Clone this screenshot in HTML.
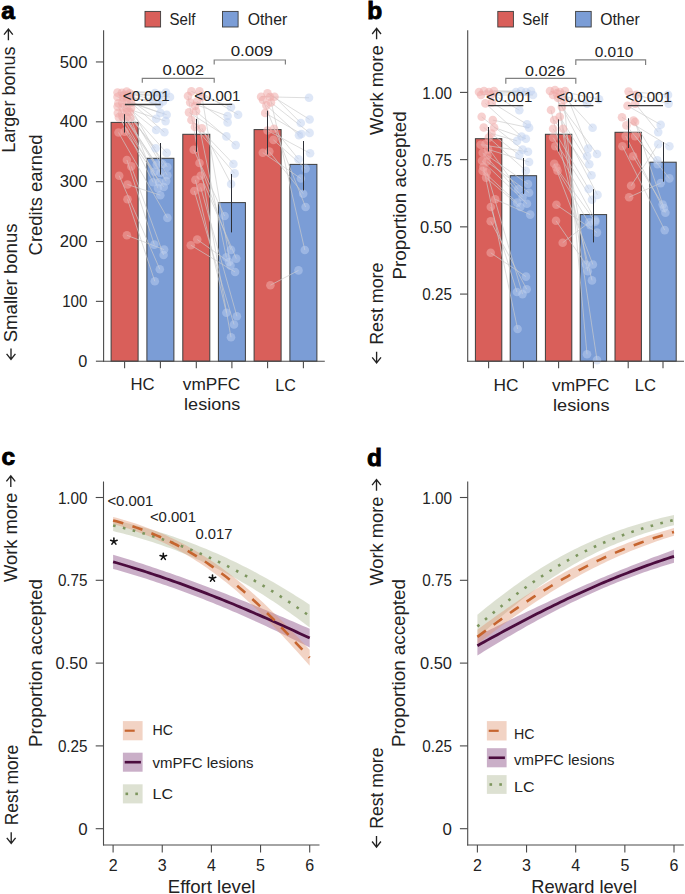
<!DOCTYPE html>
<html><head><meta charset="utf-8"><style>
html,body{margin:0;padding:0;background:#fff;}
svg{display:block;font-family:"Liberation Sans", sans-serif;}
</style></head><body>
<svg width="685" height="894" viewBox="0 0 685 894">
<rect width="685" height="894" fill="#fff"/>
<rect x="111.10" y="122.40" width="27.00" height="238.80" fill="#d95f5a" stroke="#3d3d3d" stroke-width="1.0"/>
<rect x="146.90" y="158.30" width="27.00" height="202.90" fill="#7b9dd6" stroke="#3d3d3d" stroke-width="1.0"/>
<rect x="182.80" y="134.30" width="27.00" height="226.90" fill="#d95f5a" stroke="#3d3d3d" stroke-width="1.0"/>
<rect x="218.40" y="202.60" width="27.00" height="158.60" fill="#7b9dd6" stroke="#3d3d3d" stroke-width="1.0"/>
<rect x="254.10" y="129.60" width="27.00" height="231.60" fill="#d95f5a" stroke="#3d3d3d" stroke-width="1.0"/>
<rect x="289.90" y="164.40" width="27.00" height="196.80" fill="#7b9dd6" stroke="#3d3d3d" stroke-width="1.0"/>
<line x1="126.70" y1="91.60" x2="166.00" y2="92.50" stroke="rgb(205,205,205)" stroke-width="0.9" stroke-opacity="0.75"/>
<line x1="117.50" y1="92.60" x2="155.00" y2="93.00" stroke="rgb(205,205,205)" stroke-width="0.9" stroke-opacity="0.75"/>
<line x1="121.90" y1="92.70" x2="170.00" y2="97.00" stroke="rgb(205,205,205)" stroke-width="0.9" stroke-opacity="0.75"/>
<line x1="129.60" y1="93.20" x2="153.00" y2="100.00" stroke="rgb(205,205,205)" stroke-width="0.9" stroke-opacity="0.75"/>
<line x1="124.00" y1="95.00" x2="160.00" y2="95.00" stroke="rgb(205,205,205)" stroke-width="0.9" stroke-opacity="0.75"/>
<line x1="130.90" y1="96.80" x2="159.10" y2="104.70" stroke="rgb(205,205,205)" stroke-width="0.9" stroke-opacity="0.75"/>
<line x1="117.50" y1="97.00" x2="160.30" y2="112.90" stroke="rgb(205,205,205)" stroke-width="0.9" stroke-opacity="0.75"/>
<line x1="123.20" y1="97.40" x2="163.00" y2="101.50" stroke="rgb(205,205,205)" stroke-width="0.9" stroke-opacity="0.75"/>
<line x1="127.10" y1="97.50" x2="156.20" y2="118.80" stroke="rgb(205,205,205)" stroke-width="0.9" stroke-opacity="0.75"/>
<line x1="126.70" y1="101.60" x2="166.70" y2="114.70" stroke="rgb(205,205,205)" stroke-width="0.9" stroke-opacity="0.75"/>
<line x1="131.10" y1="102.70" x2="164.40" y2="132.30" stroke="rgb(205,205,205)" stroke-width="0.9" stroke-opacity="0.75"/>
<line x1="122.20" y1="103.00" x2="156.20" y2="130.00" stroke="rgb(205,205,205)" stroke-width="0.9" stroke-opacity="0.75"/>
<line x1="118.30" y1="103.20" x2="155.60" y2="148.20" stroke="rgb(205,205,205)" stroke-width="0.9" stroke-opacity="0.75"/>
<line x1="117.60" y1="106.60" x2="156.80" y2="164.60" stroke="rgb(205,205,205)" stroke-width="0.9" stroke-opacity="0.75"/>
<line x1="122.90" y1="107.40" x2="165.60" y2="121.10" stroke="rgb(205,205,205)" stroke-width="0.9" stroke-opacity="0.75"/>
<line x1="126.80" y1="108.30" x2="166.70" y2="152.90" stroke="rgb(205,205,205)" stroke-width="0.9" stroke-opacity="0.75"/>
<line x1="131.00" y1="108.30" x2="162.60" y2="164.00" stroke="rgb(205,205,205)" stroke-width="0.9" stroke-opacity="0.75"/>
<line x1="127.20" y1="111.70" x2="167.30" y2="167.00" stroke="rgb(205,205,205)" stroke-width="0.9" stroke-opacity="0.75"/>
<line x1="129.90" y1="111.90" x2="167.30" y2="175.20" stroke="rgb(205,205,205)" stroke-width="0.9" stroke-opacity="0.75"/>
<line x1="117.80" y1="113.10" x2="153.20" y2="182.30" stroke="rgb(205,205,205)" stroke-width="0.9" stroke-opacity="0.75"/>
<line x1="122.10" y1="113.40" x2="160.30" y2="172.90" stroke="rgb(205,205,205)" stroke-width="0.9" stroke-opacity="0.75"/>
<line x1="122.50" y1="117.10" x2="159.10" y2="182.30" stroke="rgb(205,205,205)" stroke-width="0.9" stroke-opacity="0.75"/>
<line x1="126.40" y1="117.30" x2="166.20" y2="181.10" stroke="rgb(205,205,205)" stroke-width="0.9" stroke-opacity="0.75"/>
<line x1="118.90" y1="117.40" x2="154.40" y2="171.70" stroke="rgb(205,205,205)" stroke-width="0.9" stroke-opacity="0.75"/>
<line x1="130.30" y1="117.70" x2="157.90" y2="188.10" stroke="rgb(205,205,205)" stroke-width="0.9" stroke-opacity="0.75"/>
<line x1="118.50" y1="132.50" x2="167.40" y2="217.90" stroke="rgb(205,205,205)" stroke-width="0.9" stroke-opacity="0.75"/>
<line x1="124.60" y1="131.60" x2="163.80" y2="187.00" stroke="rgb(205,205,205)" stroke-width="0.9" stroke-opacity="0.75"/>
<line x1="126.90" y1="160.00" x2="154.30" y2="244.60" stroke="rgb(205,205,205)" stroke-width="0.9" stroke-opacity="0.75"/>
<line x1="131.30" y1="166.40" x2="163.60" y2="255.00" stroke="rgb(205,205,205)" stroke-width="0.9" stroke-opacity="0.75"/>
<line x1="119.20" y1="175.70" x2="159.80" y2="269.30" stroke="rgb(205,205,205)" stroke-width="0.9" stroke-opacity="0.75"/>
<line x1="127.50" y1="184.50" x2="160.30" y2="195.20" stroke="rgb(205,205,205)" stroke-width="0.9" stroke-opacity="0.75"/>
<line x1="127.50" y1="199.30" x2="154.80" y2="281.30" stroke="rgb(205,205,205)" stroke-width="0.9" stroke-opacity="0.75"/>
<line x1="126.90" y1="235.30" x2="164.10" y2="249.60" stroke="rgb(205,205,205)" stroke-width="0.9" stroke-opacity="0.75"/>
<circle cx="126.7" cy="91.6" r="4.3" fill="rgb(241,172,170)" fill-opacity="0.55"/>
<circle cx="117.5" cy="92.6" r="4.3" fill="rgb(241,172,170)" fill-opacity="0.55"/>
<circle cx="121.9" cy="92.7" r="4.3" fill="rgb(241,172,170)" fill-opacity="0.55"/>
<circle cx="129.6" cy="93.2" r="4.3" fill="rgb(241,172,170)" fill-opacity="0.55"/>
<circle cx="124" cy="95" r="4.3" fill="rgb(241,172,170)" fill-opacity="0.55"/>
<circle cx="130.9" cy="96.8" r="4.3" fill="rgb(241,172,170)" fill-opacity="0.55"/>
<circle cx="117.5" cy="97.0" r="4.3" fill="rgb(241,172,170)" fill-opacity="0.55"/>
<circle cx="123.2" cy="97.4" r="4.3" fill="rgb(241,172,170)" fill-opacity="0.55"/>
<circle cx="127.1" cy="97.5" r="4.3" fill="rgb(241,172,170)" fill-opacity="0.55"/>
<circle cx="126.7" cy="101.6" r="4.3" fill="rgb(241,172,170)" fill-opacity="0.55"/>
<circle cx="131.1" cy="102.7" r="4.3" fill="rgb(241,172,170)" fill-opacity="0.55"/>
<circle cx="122.2" cy="103.0" r="4.3" fill="rgb(241,172,170)" fill-opacity="0.55"/>
<circle cx="118.3" cy="103.2" r="4.3" fill="rgb(241,172,170)" fill-opacity="0.55"/>
<circle cx="117.6" cy="106.6" r="4.3" fill="rgb(241,172,170)" fill-opacity="0.55"/>
<circle cx="122.9" cy="107.4" r="4.3" fill="rgb(241,172,170)" fill-opacity="0.55"/>
<circle cx="126.8" cy="108.3" r="4.3" fill="rgb(241,172,170)" fill-opacity="0.55"/>
<circle cx="131.0" cy="108.3" r="4.3" fill="rgb(241,172,170)" fill-opacity="0.55"/>
<circle cx="127.2" cy="111.7" r="4.3" fill="rgb(241,172,170)" fill-opacity="0.55"/>
<circle cx="129.9" cy="111.9" r="4.3" fill="rgb(241,172,170)" fill-opacity="0.55"/>
<circle cx="117.8" cy="113.1" r="4.3" fill="rgb(241,172,170)" fill-opacity="0.55"/>
<circle cx="122.1" cy="113.4" r="4.3" fill="rgb(241,172,170)" fill-opacity="0.55"/>
<circle cx="122.5" cy="117.1" r="4.3" fill="rgb(241,172,170)" fill-opacity="0.55"/>
<circle cx="126.4" cy="117.3" r="4.3" fill="rgb(241,172,170)" fill-opacity="0.55"/>
<circle cx="118.9" cy="117.4" r="4.3" fill="rgb(241,172,170)" fill-opacity="0.55"/>
<circle cx="130.3" cy="117.7" r="4.3" fill="rgb(241,172,170)" fill-opacity="0.55"/>
<circle cx="118.5" cy="132.5" r="4.3" fill="rgb(241,172,170)" fill-opacity="0.55"/>
<circle cx="124.6" cy="131.6" r="4.3" fill="rgb(241,172,170)" fill-opacity="0.55"/>
<circle cx="126.9" cy="160" r="4.3" fill="rgb(241,172,170)" fill-opacity="0.55"/>
<circle cx="131.3" cy="166.4" r="4.3" fill="rgb(241,172,170)" fill-opacity="0.55"/>
<circle cx="119.2" cy="175.7" r="4.3" fill="rgb(241,172,170)" fill-opacity="0.55"/>
<circle cx="127.5" cy="184.5" r="4.3" fill="rgb(241,172,170)" fill-opacity="0.55"/>
<circle cx="127.5" cy="199.3" r="4.3" fill="rgb(241,172,170)" fill-opacity="0.55"/>
<circle cx="126.9" cy="235.3" r="4.3" fill="rgb(241,172,170)" fill-opacity="0.55"/>
<circle cx="166" cy="92.5" r="4.3" fill="rgb(190,208,240)" fill-opacity="0.5"/>
<circle cx="155" cy="93" r="4.3" fill="rgb(190,208,240)" fill-opacity="0.5"/>
<circle cx="170" cy="97" r="4.3" fill="rgb(190,208,240)" fill-opacity="0.5"/>
<circle cx="153" cy="100" r="4.3" fill="rgb(190,208,240)" fill-opacity="0.5"/>
<circle cx="160" cy="95" r="4.3" fill="rgb(190,208,240)" fill-opacity="0.5"/>
<circle cx="159.1" cy="104.7" r="4.3" fill="rgb(190,208,240)" fill-opacity="0.5"/>
<circle cx="160.3" cy="112.9" r="4.3" fill="rgb(190,208,240)" fill-opacity="0.5"/>
<circle cx="163" cy="101.5" r="4.3" fill="rgb(190,208,240)" fill-opacity="0.5"/>
<circle cx="156.2" cy="118.8" r="4.3" fill="rgb(190,208,240)" fill-opacity="0.5"/>
<circle cx="166.7" cy="114.7" r="4.3" fill="rgb(190,208,240)" fill-opacity="0.5"/>
<circle cx="164.4" cy="132.3" r="4.3" fill="rgb(190,208,240)" fill-opacity="0.5"/>
<circle cx="156.2" cy="130" r="4.3" fill="rgb(190,208,240)" fill-opacity="0.5"/>
<circle cx="155.6" cy="148.2" r="4.3" fill="rgb(190,208,240)" fill-opacity="0.5"/>
<circle cx="156.8" cy="164.6" r="4.3" fill="rgb(190,208,240)" fill-opacity="0.5"/>
<circle cx="165.6" cy="121.1" r="4.3" fill="rgb(190,208,240)" fill-opacity="0.5"/>
<circle cx="166.7" cy="152.9" r="4.3" fill="rgb(190,208,240)" fill-opacity="0.5"/>
<circle cx="162.6" cy="164" r="4.3" fill="rgb(190,208,240)" fill-opacity="0.5"/>
<circle cx="167.3" cy="167" r="4.3" fill="rgb(190,208,240)" fill-opacity="0.5"/>
<circle cx="167.3" cy="175.2" r="4.3" fill="rgb(190,208,240)" fill-opacity="0.5"/>
<circle cx="153.2" cy="182.3" r="4.3" fill="rgb(190,208,240)" fill-opacity="0.5"/>
<circle cx="160.3" cy="172.9" r="4.3" fill="rgb(190,208,240)" fill-opacity="0.5"/>
<circle cx="159.1" cy="182.3" r="4.3" fill="rgb(190,208,240)" fill-opacity="0.5"/>
<circle cx="166.2" cy="181.1" r="4.3" fill="rgb(190,208,240)" fill-opacity="0.5"/>
<circle cx="154.4" cy="171.7" r="4.3" fill="rgb(190,208,240)" fill-opacity="0.5"/>
<circle cx="157.9" cy="188.1" r="4.3" fill="rgb(190,208,240)" fill-opacity="0.5"/>
<circle cx="167.4" cy="217.9" r="4.3" fill="rgb(190,208,240)" fill-opacity="0.5"/>
<circle cx="163.8" cy="187" r="4.3" fill="rgb(190,208,240)" fill-opacity="0.5"/>
<circle cx="154.3" cy="244.6" r="4.3" fill="rgb(190,208,240)" fill-opacity="0.5"/>
<circle cx="163.6" cy="255" r="4.3" fill="rgb(190,208,240)" fill-opacity="0.5"/>
<circle cx="159.8" cy="269.3" r="4.3" fill="rgb(190,208,240)" fill-opacity="0.5"/>
<circle cx="160.3" cy="195.2" r="4.3" fill="rgb(190,208,240)" fill-opacity="0.5"/>
<circle cx="154.8" cy="281.3" r="4.3" fill="rgb(190,208,240)" fill-opacity="0.5"/>
<circle cx="164.1" cy="249.6" r="4.3" fill="rgb(190,208,240)" fill-opacity="0.5"/>
<line x1="191.40" y1="91.40" x2="231.00" y2="107.20" stroke="rgb(205,205,205)" stroke-width="0.9" stroke-opacity="0.75"/>
<line x1="199.50" y1="91.40" x2="238.10" y2="114.80" stroke="rgb(205,205,205)" stroke-width="0.9" stroke-opacity="0.75"/>
<line x1="190.20" y1="102.50" x2="227.60" y2="116.00" stroke="rgb(205,205,205)" stroke-width="0.9" stroke-opacity="0.75"/>
<line x1="197.20" y1="101.40" x2="227.60" y2="122.40" stroke="rgb(205,205,205)" stroke-width="0.9" stroke-opacity="0.75"/>
<line x1="189.00" y1="112.40" x2="226.40" y2="136.40" stroke="rgb(205,205,205)" stroke-width="0.9" stroke-opacity="0.75"/>
<line x1="196.00" y1="111.30" x2="235.70" y2="145.10" stroke="rgb(205,205,205)" stroke-width="0.9" stroke-opacity="0.75"/>
<line x1="191.40" y1="120.00" x2="233.40" y2="164.00" stroke="rgb(205,205,205)" stroke-width="0.9" stroke-opacity="0.75"/>
<line x1="194.90" y1="127.00" x2="234.60" y2="173.40" stroke="rgb(205,205,205)" stroke-width="0.9" stroke-opacity="0.75"/>
<line x1="201.90" y1="128.20" x2="231.10" y2="184.00" stroke="rgb(205,205,205)" stroke-width="0.9" stroke-opacity="0.75"/>
<line x1="193.70" y1="149.80" x2="224.60" y2="216.00" stroke="rgb(205,205,205)" stroke-width="0.9" stroke-opacity="0.75"/>
<line x1="199.50" y1="163.00" x2="231.00" y2="249.90" stroke="rgb(205,205,205)" stroke-width="0.9" stroke-opacity="0.75"/>
<line x1="200.70" y1="175.80" x2="236.30" y2="258.60" stroke="rgb(205,205,205)" stroke-width="0.9" stroke-opacity="0.75"/>
<line x1="195.40" y1="179.90" x2="226.40" y2="312.80" stroke="rgb(205,205,205)" stroke-width="0.9" stroke-opacity="0.75"/>
<line x1="200.70" y1="187.40" x2="236.90" y2="316.30" stroke="rgb(205,205,205)" stroke-width="0.9" stroke-opacity="0.75"/>
<line x1="194.30" y1="191.00" x2="234.00" y2="324.50" stroke="rgb(205,205,205)" stroke-width="0.9" stroke-opacity="0.75"/>
<line x1="197.20" y1="239.50" x2="229.00" y2="262.00" stroke="rgb(205,205,205)" stroke-width="0.9" stroke-opacity="0.75"/>
<line x1="190.80" y1="245.20" x2="235.10" y2="272.00" stroke="rgb(205,205,205)" stroke-width="0.9" stroke-opacity="0.75"/>
<line x1="188.00" y1="96.00" x2="231.00" y2="337.30" stroke="rgb(205,205,205)" stroke-width="0.9" stroke-opacity="0.75"/>
<line x1="202.00" y1="97.00" x2="230.50" y2="265.60" stroke="rgb(205,205,205)" stroke-width="0.9" stroke-opacity="0.75"/>
<line x1="195.00" y1="106.00" x2="226.40" y2="257.40" stroke="rgb(205,205,205)" stroke-width="0.9" stroke-opacity="0.75"/>
<circle cx="191.4" cy="91.4" r="4.3" fill="rgb(241,172,170)" fill-opacity="0.55"/>
<circle cx="199.5" cy="91.4" r="4.3" fill="rgb(241,172,170)" fill-opacity="0.55"/>
<circle cx="190.2" cy="102.5" r="4.3" fill="rgb(241,172,170)" fill-opacity="0.55"/>
<circle cx="197.2" cy="101.4" r="4.3" fill="rgb(241,172,170)" fill-opacity="0.55"/>
<circle cx="189" cy="112.4" r="4.3" fill="rgb(241,172,170)" fill-opacity="0.55"/>
<circle cx="196" cy="111.3" r="4.3" fill="rgb(241,172,170)" fill-opacity="0.55"/>
<circle cx="191.4" cy="120" r="4.3" fill="rgb(241,172,170)" fill-opacity="0.55"/>
<circle cx="194.9" cy="127" r="4.3" fill="rgb(241,172,170)" fill-opacity="0.55"/>
<circle cx="201.9" cy="128.2" r="4.3" fill="rgb(241,172,170)" fill-opacity="0.55"/>
<circle cx="193.7" cy="149.8" r="4.3" fill="rgb(241,172,170)" fill-opacity="0.55"/>
<circle cx="199.5" cy="163" r="4.3" fill="rgb(241,172,170)" fill-opacity="0.55"/>
<circle cx="200.7" cy="175.8" r="4.3" fill="rgb(241,172,170)" fill-opacity="0.55"/>
<circle cx="195.4" cy="179.9" r="4.3" fill="rgb(241,172,170)" fill-opacity="0.55"/>
<circle cx="200.7" cy="187.4" r="4.3" fill="rgb(241,172,170)" fill-opacity="0.55"/>
<circle cx="194.3" cy="191" r="4.3" fill="rgb(241,172,170)" fill-opacity="0.55"/>
<circle cx="197.2" cy="239.5" r="4.3" fill="rgb(241,172,170)" fill-opacity="0.55"/>
<circle cx="190.8" cy="245.2" r="4.3" fill="rgb(241,172,170)" fill-opacity="0.55"/>
<circle cx="188" cy="96" r="4.3" fill="rgb(241,172,170)" fill-opacity="0.55"/>
<circle cx="202" cy="97" r="4.3" fill="rgb(241,172,170)" fill-opacity="0.55"/>
<circle cx="195" cy="106" r="4.3" fill="rgb(241,172,170)" fill-opacity="0.55"/>
<circle cx="231" cy="107.2" r="4.3" fill="rgb(190,208,240)" fill-opacity="0.5"/>
<circle cx="238.1" cy="114.8" r="4.3" fill="rgb(190,208,240)" fill-opacity="0.5"/>
<circle cx="227.6" cy="116" r="4.3" fill="rgb(190,208,240)" fill-opacity="0.5"/>
<circle cx="227.6" cy="122.4" r="4.3" fill="rgb(190,208,240)" fill-opacity="0.5"/>
<circle cx="226.4" cy="136.4" r="4.3" fill="rgb(190,208,240)" fill-opacity="0.5"/>
<circle cx="235.7" cy="145.1" r="4.3" fill="rgb(190,208,240)" fill-opacity="0.5"/>
<circle cx="233.4" cy="164" r="4.3" fill="rgb(190,208,240)" fill-opacity="0.5"/>
<circle cx="234.6" cy="173.4" r="4.3" fill="rgb(190,208,240)" fill-opacity="0.5"/>
<circle cx="231.1" cy="184" r="4.3" fill="rgb(190,208,240)" fill-opacity="0.5"/>
<circle cx="224.6" cy="216" r="4.3" fill="rgb(190,208,240)" fill-opacity="0.5"/>
<circle cx="231" cy="249.9" r="4.3" fill="rgb(190,208,240)" fill-opacity="0.5"/>
<circle cx="236.3" cy="258.6" r="4.3" fill="rgb(190,208,240)" fill-opacity="0.5"/>
<circle cx="226.4" cy="312.8" r="4.3" fill="rgb(190,208,240)" fill-opacity="0.5"/>
<circle cx="236.9" cy="316.3" r="4.3" fill="rgb(190,208,240)" fill-opacity="0.5"/>
<circle cx="234" cy="324.5" r="4.3" fill="rgb(190,208,240)" fill-opacity="0.5"/>
<circle cx="229" cy="262" r="4.3" fill="rgb(190,208,240)" fill-opacity="0.5"/>
<circle cx="235.1" cy="272" r="4.3" fill="rgb(190,208,240)" fill-opacity="0.5"/>
<circle cx="231" cy="337.3" r="4.3" fill="rgb(190,208,240)" fill-opacity="0.5"/>
<circle cx="230.5" cy="265.6" r="4.3" fill="rgb(190,208,240)" fill-opacity="0.5"/>
<circle cx="226.4" cy="257.4" r="4.3" fill="rgb(190,208,240)" fill-opacity="0.5"/>
<line x1="261.10" y1="96.70" x2="309.00" y2="97.80" stroke="rgb(205,205,205)" stroke-width="0.9" stroke-opacity="0.75"/>
<line x1="267.50" y1="93.20" x2="309.60" y2="119.50" stroke="rgb(205,205,205)" stroke-width="0.9" stroke-opacity="0.75"/>
<line x1="274.50" y1="96.70" x2="300.80" y2="123.00" stroke="rgb(205,205,205)" stroke-width="0.9" stroke-opacity="0.75"/>
<line x1="271.00" y1="102.50" x2="309.60" y2="132.90" stroke="rgb(205,205,205)" stroke-width="0.9" stroke-opacity="0.75"/>
<line x1="266.40" y1="105.40" x2="299.00" y2="135.20" stroke="rgb(205,205,205)" stroke-width="0.9" stroke-opacity="0.75"/>
<line x1="265.20" y1="113.00" x2="301.40" y2="134.00" stroke="rgb(205,205,205)" stroke-width="0.9" stroke-opacity="0.75"/>
<line x1="267.50" y1="130.50" x2="310.10" y2="153.30" stroke="rgb(205,205,205)" stroke-width="0.9" stroke-opacity="0.75"/>
<line x1="274.00" y1="128.80" x2="298.50" y2="159.20" stroke="rgb(205,205,205)" stroke-width="0.9" stroke-opacity="0.75"/>
<line x1="273.40" y1="139.90" x2="305.60" y2="168.60" stroke="rgb(205,205,205)" stroke-width="0.9" stroke-opacity="0.75"/>
<line x1="262.80" y1="152.70" x2="300.90" y2="178.50" stroke="rgb(205,205,205)" stroke-width="0.9" stroke-opacity="0.75"/>
<line x1="269.30" y1="151.60" x2="303.20" y2="193.70" stroke="rgb(205,205,205)" stroke-width="0.9" stroke-opacity="0.75"/>
<line x1="270.40" y1="285.20" x2="298.50" y2="270.40" stroke="rgb(205,205,205)" stroke-width="0.9" stroke-opacity="0.75"/>
<line x1="263.00" y1="100.00" x2="305.60" y2="207.00" stroke="rgb(205,205,205)" stroke-width="0.9" stroke-opacity="0.75"/>
<line x1="270.00" y1="97.00" x2="304.80" y2="250.00" stroke="rgb(205,205,205)" stroke-width="0.9" stroke-opacity="0.75"/>
<circle cx="261.1" cy="96.7" r="4.3" fill="rgb(241,172,170)" fill-opacity="0.55"/>
<circle cx="267.5" cy="93.2" r="4.3" fill="rgb(241,172,170)" fill-opacity="0.55"/>
<circle cx="274.5" cy="96.7" r="4.3" fill="rgb(241,172,170)" fill-opacity="0.55"/>
<circle cx="271" cy="102.5" r="4.3" fill="rgb(241,172,170)" fill-opacity="0.55"/>
<circle cx="266.4" cy="105.4" r="4.3" fill="rgb(241,172,170)" fill-opacity="0.55"/>
<circle cx="265.2" cy="113" r="4.3" fill="rgb(241,172,170)" fill-opacity="0.55"/>
<circle cx="267.5" cy="130.5" r="4.3" fill="rgb(241,172,170)" fill-opacity="0.55"/>
<circle cx="274" cy="128.8" r="4.3" fill="rgb(241,172,170)" fill-opacity="0.55"/>
<circle cx="273.4" cy="139.9" r="4.3" fill="rgb(241,172,170)" fill-opacity="0.55"/>
<circle cx="262.8" cy="152.7" r="4.3" fill="rgb(241,172,170)" fill-opacity="0.55"/>
<circle cx="269.3" cy="151.6" r="4.3" fill="rgb(241,172,170)" fill-opacity="0.55"/>
<circle cx="270.4" cy="285.2" r="4.3" fill="rgb(241,172,170)" fill-opacity="0.55"/>
<circle cx="263" cy="100" r="4.3" fill="rgb(241,172,170)" fill-opacity="0.55"/>
<circle cx="270" cy="97" r="4.3" fill="rgb(241,172,170)" fill-opacity="0.55"/>
<circle cx="309" cy="97.8" r="4.3" fill="rgb(190,208,240)" fill-opacity="0.5"/>
<circle cx="309.6" cy="119.5" r="4.3" fill="rgb(190,208,240)" fill-opacity="0.5"/>
<circle cx="300.8" cy="123" r="4.3" fill="rgb(190,208,240)" fill-opacity="0.5"/>
<circle cx="309.6" cy="132.9" r="4.3" fill="rgb(190,208,240)" fill-opacity="0.5"/>
<circle cx="299" cy="135.2" r="4.3" fill="rgb(190,208,240)" fill-opacity="0.5"/>
<circle cx="301.4" cy="134" r="4.3" fill="rgb(190,208,240)" fill-opacity="0.5"/>
<circle cx="310.1" cy="153.3" r="4.3" fill="rgb(190,208,240)" fill-opacity="0.5"/>
<circle cx="298.5" cy="159.2" r="4.3" fill="rgb(190,208,240)" fill-opacity="0.5"/>
<circle cx="305.6" cy="168.6" r="4.3" fill="rgb(190,208,240)" fill-opacity="0.5"/>
<circle cx="300.9" cy="178.5" r="4.3" fill="rgb(190,208,240)" fill-opacity="0.5"/>
<circle cx="303.2" cy="193.7" r="4.3" fill="rgb(190,208,240)" fill-opacity="0.5"/>
<circle cx="298.5" cy="270.4" r="4.3" fill="rgb(190,208,240)" fill-opacity="0.5"/>
<circle cx="305.6" cy="207" r="4.3" fill="rgb(190,208,240)" fill-opacity="0.5"/>
<circle cx="304.8" cy="250" r="4.3" fill="rgb(190,208,240)" fill-opacity="0.5"/>
<line x1="124.50" y1="114.20" x2="124.50" y2="132.60" stroke="#2d2f36" stroke-width="1.0"/>
<line x1="160.50" y1="143.00" x2="160.50" y2="174.60" stroke="#2d2f36" stroke-width="1.0"/>
<line x1="196.50" y1="118.90" x2="196.50" y2="151.80" stroke="#2d2f36" stroke-width="1.0"/>
<line x1="231.50" y1="174.00" x2="231.50" y2="232.40" stroke="#2d2f36" stroke-width="1.0"/>
<line x1="267.50" y1="110.70" x2="267.50" y2="154.50" stroke="#2d2f36" stroke-width="1.0"/>
<line x1="303.50" y1="141.00" x2="303.50" y2="190.40" stroke="#2d2f36" stroke-width="1.0"/>
<line x1="103.60" y1="30.20" x2="103.60" y2="361.75" stroke="#4a4a4a" stroke-width="1.1"/>
<line x1="103.05" y1="361.20" x2="324.80" y2="361.20" stroke="#4a4a4a" stroke-width="1.1"/>
<line x1="124.60" y1="361.20" x2="124.60" y2="368.20" stroke="#4a4a4a" stroke-width="1.1"/>
<line x1="160.40" y1="361.20" x2="160.40" y2="368.20" stroke="#4a4a4a" stroke-width="1.1"/>
<line x1="196.30" y1="361.20" x2="196.30" y2="368.20" stroke="#4a4a4a" stroke-width="1.1"/>
<line x1="231.90" y1="361.20" x2="231.90" y2="368.20" stroke="#4a4a4a" stroke-width="1.1"/>
<line x1="267.60" y1="361.20" x2="267.60" y2="368.20" stroke="#4a4a4a" stroke-width="1.1"/>
<line x1="303.40" y1="361.20" x2="303.40" y2="368.20" stroke="#4a4a4a" stroke-width="1.1"/>
<line x1="95.90" y1="361.20" x2="103.60" y2="361.20" stroke="#4a4a4a" stroke-width="1.1"/>
<text x="87.4" y="366.8" font-size="16.3" text-anchor="end" font-weight="normal" fill="#222">0</text>
<line x1="95.90" y1="301.35" x2="103.60" y2="301.35" stroke="#4a4a4a" stroke-width="1.1"/>
<text x="87.4" y="306.9" font-size="16.3" text-anchor="end" font-weight="normal" fill="#222" textLength="25.2" lengthAdjust="spacingAndGlyphs">100</text>
<line x1="95.90" y1="241.50" x2="103.60" y2="241.50" stroke="#4a4a4a" stroke-width="1.1"/>
<text x="87.4" y="247.1" font-size="16.3" text-anchor="end" font-weight="normal" fill="#222" textLength="27.7" lengthAdjust="spacingAndGlyphs">200</text>
<line x1="95.90" y1="181.65" x2="103.60" y2="181.65" stroke="#4a4a4a" stroke-width="1.1"/>
<text x="87.4" y="187.2" font-size="16.3" text-anchor="end" font-weight="normal" fill="#222" textLength="27.7" lengthAdjust="spacingAndGlyphs">300</text>
<line x1="95.90" y1="121.80" x2="103.60" y2="121.80" stroke="#4a4a4a" stroke-width="1.1"/>
<text x="87.4" y="127.4" font-size="16.3" text-anchor="end" font-weight="normal" fill="#222" textLength="27.7" lengthAdjust="spacingAndGlyphs">400</text>
<line x1="95.90" y1="61.95" x2="103.60" y2="61.95" stroke="#4a4a4a" stroke-width="1.1"/>
<text x="87.4" y="67.5" font-size="16.3" text-anchor="end" font-weight="normal" fill="#222" textLength="27.7" lengthAdjust="spacingAndGlyphs">500</text>
<rect x="475.40" y="138.70" width="26.40" height="222.50" fill="#d95f5a" stroke="#3d3d3d" stroke-width="1.0"/>
<rect x="510.20" y="175.70" width="26.40" height="185.50" fill="#7b9dd6" stroke="#3d3d3d" stroke-width="1.0"/>
<rect x="545.40" y="134.30" width="26.40" height="226.90" fill="#d95f5a" stroke="#3d3d3d" stroke-width="1.0"/>
<rect x="580.20" y="214.60" width="26.40" height="146.60" fill="#7b9dd6" stroke="#3d3d3d" stroke-width="1.0"/>
<rect x="615.00" y="132.30" width="26.40" height="228.90" fill="#d95f5a" stroke="#3d3d3d" stroke-width="1.0"/>
<rect x="649.80" y="162.20" width="26.40" height="199.00" fill="#7b9dd6" stroke="#3d3d3d" stroke-width="1.0"/>
<line x1="479.00" y1="92.00" x2="516.00" y2="92.00" stroke="rgb(205,205,205)" stroke-width="0.9" stroke-opacity="0.75"/>
<line x1="484.00" y1="91.00" x2="521.00" y2="91.00" stroke="rgb(205,205,205)" stroke-width="0.9" stroke-opacity="0.75"/>
<line x1="489.00" y1="92.00" x2="519.30" y2="110.20" stroke="rgb(205,205,205)" stroke-width="0.9" stroke-opacity="0.75"/>
<line x1="494.00" y1="91.00" x2="526.00" y2="92.00" stroke="rgb(205,205,205)" stroke-width="0.9" stroke-opacity="0.75"/>
<line x1="481.00" y1="95.00" x2="531.00" y2="91.00" stroke="rgb(205,205,205)" stroke-width="0.9" stroke-opacity="0.75"/>
<line x1="491.00" y1="95.00" x2="533.00" y2="95.00" stroke="rgb(205,205,205)" stroke-width="0.9" stroke-opacity="0.75"/>
<line x1="485.40" y1="103.40" x2="521.50" y2="136.50" stroke="rgb(205,205,205)" stroke-width="0.9" stroke-opacity="0.75"/>
<line x1="491.90" y1="102.50" x2="527.00" y2="124.40" stroke="rgb(205,205,205)" stroke-width="0.9" stroke-opacity="0.75"/>
<line x1="481.70" y1="116.80" x2="522.60" y2="149.60" stroke="rgb(205,205,205)" stroke-width="0.9" stroke-opacity="0.75"/>
<line x1="492.80" y1="120.10" x2="529.10" y2="127.70" stroke="rgb(205,205,205)" stroke-width="0.9" stroke-opacity="0.75"/>
<line x1="483.70" y1="127.50" x2="519.30" y2="155.10" stroke="rgb(205,205,205)" stroke-width="0.9" stroke-opacity="0.75"/>
<line x1="494.10" y1="127.50" x2="525.90" y2="138.70" stroke="rgb(205,205,205)" stroke-width="0.9" stroke-opacity="0.75"/>
<line x1="491.50" y1="133.60" x2="517.10" y2="140.90" stroke="rgb(205,205,205)" stroke-width="0.9" stroke-opacity="0.75"/>
<line x1="488.80" y1="137.60" x2="525.90" y2="170.80" stroke="rgb(205,205,205)" stroke-width="0.9" stroke-opacity="0.75"/>
<line x1="480.70" y1="144.70" x2="528.00" y2="151.80" stroke="rgb(205,205,205)" stroke-width="0.9" stroke-opacity="0.75"/>
<line x1="485.40" y1="144.00" x2="518.20" y2="189.40" stroke="rgb(205,205,205)" stroke-width="0.9" stroke-opacity="0.75"/>
<line x1="488.10" y1="149.40" x2="529.10" y2="162.00" stroke="rgb(205,205,205)" stroke-width="0.9" stroke-opacity="0.75"/>
<line x1="482.70" y1="152.80" x2="522.60" y2="197.10" stroke="rgb(205,205,205)" stroke-width="0.9" stroke-opacity="0.75"/>
<line x1="487.40" y1="155.50" x2="528.00" y2="184.00" stroke="rgb(205,205,205)" stroke-width="0.9" stroke-opacity="0.75"/>
<line x1="482.00" y1="160.80" x2="527.00" y2="203.70" stroke="rgb(205,205,205)" stroke-width="0.9" stroke-opacity="0.75"/>
<line x1="486.80" y1="161.50" x2="529.10" y2="192.70" stroke="rgb(205,205,205)" stroke-width="0.9" stroke-opacity="0.75"/>
<line x1="483.40" y1="166.90" x2="517.60" y2="329.00" stroke="rgb(205,205,205)" stroke-width="0.9" stroke-opacity="0.75"/>
<line x1="482.70" y1="170.90" x2="517.10" y2="202.60" stroke="rgb(205,205,205)" stroke-width="0.9" stroke-opacity="0.75"/>
<line x1="486.80" y1="172.20" x2="522.50" y2="294.10" stroke="rgb(205,205,205)" stroke-width="0.9" stroke-opacity="0.75"/>
<line x1="486.10" y1="177.60" x2="520.40" y2="207.00" stroke="rgb(205,205,205)" stroke-width="0.9" stroke-opacity="0.75"/>
<line x1="495.20" y1="199.30" x2="530.20" y2="214.60" stroke="rgb(205,205,205)" stroke-width="0.9" stroke-opacity="0.75"/>
<line x1="490.80" y1="207.00" x2="516.90" y2="292.00" stroke="rgb(205,205,205)" stroke-width="0.9" stroke-opacity="0.75"/>
<line x1="490.70" y1="221.30" x2="526.70" y2="289.20" stroke="rgb(205,205,205)" stroke-width="0.9" stroke-opacity="0.75"/>
<line x1="490.70" y1="252.80" x2="526.00" y2="276.60" stroke="rgb(205,205,205)" stroke-width="0.9" stroke-opacity="0.75"/>
<circle cx="479" cy="92" r="4.3" fill="rgb(241,172,170)" fill-opacity="0.55"/>
<circle cx="484" cy="91" r="4.3" fill="rgb(241,172,170)" fill-opacity="0.55"/>
<circle cx="489" cy="92" r="4.3" fill="rgb(241,172,170)" fill-opacity="0.55"/>
<circle cx="494" cy="91" r="4.3" fill="rgb(241,172,170)" fill-opacity="0.55"/>
<circle cx="481" cy="95" r="4.3" fill="rgb(241,172,170)" fill-opacity="0.55"/>
<circle cx="491" cy="95" r="4.3" fill="rgb(241,172,170)" fill-opacity="0.55"/>
<circle cx="485.4" cy="103.4" r="4.3" fill="rgb(241,172,170)" fill-opacity="0.55"/>
<circle cx="491.9" cy="102.5" r="4.3" fill="rgb(241,172,170)" fill-opacity="0.55"/>
<circle cx="481.7" cy="116.8" r="4.3" fill="rgb(241,172,170)" fill-opacity="0.55"/>
<circle cx="492.8" cy="120.1" r="4.3" fill="rgb(241,172,170)" fill-opacity="0.55"/>
<circle cx="483.7" cy="127.5" r="4.3" fill="rgb(241,172,170)" fill-opacity="0.55"/>
<circle cx="494.1" cy="127.5" r="4.3" fill="rgb(241,172,170)" fill-opacity="0.55"/>
<circle cx="491.5" cy="133.6" r="4.3" fill="rgb(241,172,170)" fill-opacity="0.55"/>
<circle cx="488.8" cy="137.6" r="4.3" fill="rgb(241,172,170)" fill-opacity="0.55"/>
<circle cx="480.7" cy="144.7" r="4.3" fill="rgb(241,172,170)" fill-opacity="0.55"/>
<circle cx="485.4" cy="144" r="4.3" fill="rgb(241,172,170)" fill-opacity="0.55"/>
<circle cx="488.1" cy="149.4" r="4.3" fill="rgb(241,172,170)" fill-opacity="0.55"/>
<circle cx="482.7" cy="152.8" r="4.3" fill="rgb(241,172,170)" fill-opacity="0.55"/>
<circle cx="487.4" cy="155.5" r="4.3" fill="rgb(241,172,170)" fill-opacity="0.55"/>
<circle cx="482" cy="160.8" r="4.3" fill="rgb(241,172,170)" fill-opacity="0.55"/>
<circle cx="486.8" cy="161.5" r="4.3" fill="rgb(241,172,170)" fill-opacity="0.55"/>
<circle cx="483.4" cy="166.9" r="4.3" fill="rgb(241,172,170)" fill-opacity="0.55"/>
<circle cx="482.7" cy="170.9" r="4.3" fill="rgb(241,172,170)" fill-opacity="0.55"/>
<circle cx="486.8" cy="172.2" r="4.3" fill="rgb(241,172,170)" fill-opacity="0.55"/>
<circle cx="486.1" cy="177.6" r="4.3" fill="rgb(241,172,170)" fill-opacity="0.55"/>
<circle cx="495.2" cy="199.3" r="4.3" fill="rgb(241,172,170)" fill-opacity="0.55"/>
<circle cx="490.8" cy="207" r="4.3" fill="rgb(241,172,170)" fill-opacity="0.55"/>
<circle cx="490.7" cy="221.3" r="4.3" fill="rgb(241,172,170)" fill-opacity="0.55"/>
<circle cx="490.7" cy="252.8" r="4.3" fill="rgb(241,172,170)" fill-opacity="0.55"/>
<circle cx="516" cy="92" r="4.3" fill="rgb(190,208,240)" fill-opacity="0.5"/>
<circle cx="521" cy="91" r="4.3" fill="rgb(190,208,240)" fill-opacity="0.5"/>
<circle cx="519.3" cy="110.2" r="4.3" fill="rgb(190,208,240)" fill-opacity="0.5"/>
<circle cx="526" cy="92" r="4.3" fill="rgb(190,208,240)" fill-opacity="0.5"/>
<circle cx="531" cy="91" r="4.3" fill="rgb(190,208,240)" fill-opacity="0.5"/>
<circle cx="533" cy="95" r="4.3" fill="rgb(190,208,240)" fill-opacity="0.5"/>
<circle cx="521.5" cy="136.5" r="4.3" fill="rgb(190,208,240)" fill-opacity="0.5"/>
<circle cx="527" cy="124.4" r="4.3" fill="rgb(190,208,240)" fill-opacity="0.5"/>
<circle cx="522.6" cy="149.6" r="4.3" fill="rgb(190,208,240)" fill-opacity="0.5"/>
<circle cx="529.1" cy="127.7" r="4.3" fill="rgb(190,208,240)" fill-opacity="0.5"/>
<circle cx="519.3" cy="155.1" r="4.3" fill="rgb(190,208,240)" fill-opacity="0.5"/>
<circle cx="525.9" cy="138.7" r="4.3" fill="rgb(190,208,240)" fill-opacity="0.5"/>
<circle cx="517.1" cy="140.9" r="4.3" fill="rgb(190,208,240)" fill-opacity="0.5"/>
<circle cx="525.9" cy="170.8" r="4.3" fill="rgb(190,208,240)" fill-opacity="0.5"/>
<circle cx="528" cy="151.8" r="4.3" fill="rgb(190,208,240)" fill-opacity="0.5"/>
<circle cx="518.2" cy="189.4" r="4.3" fill="rgb(190,208,240)" fill-opacity="0.5"/>
<circle cx="529.1" cy="162" r="4.3" fill="rgb(190,208,240)" fill-opacity="0.5"/>
<circle cx="522.6" cy="197.1" r="4.3" fill="rgb(190,208,240)" fill-opacity="0.5"/>
<circle cx="528" cy="184" r="4.3" fill="rgb(190,208,240)" fill-opacity="0.5"/>
<circle cx="527" cy="203.7" r="4.3" fill="rgb(190,208,240)" fill-opacity="0.5"/>
<circle cx="529.1" cy="192.7" r="4.3" fill="rgb(190,208,240)" fill-opacity="0.5"/>
<circle cx="517.6" cy="329" r="4.3" fill="rgb(190,208,240)" fill-opacity="0.5"/>
<circle cx="517.1" cy="202.6" r="4.3" fill="rgb(190,208,240)" fill-opacity="0.5"/>
<circle cx="522.5" cy="294.1" r="4.3" fill="rgb(190,208,240)" fill-opacity="0.5"/>
<circle cx="520.4" cy="207" r="4.3" fill="rgb(190,208,240)" fill-opacity="0.5"/>
<circle cx="530.2" cy="214.6" r="4.3" fill="rgb(190,208,240)" fill-opacity="0.5"/>
<circle cx="516.9" cy="292" r="4.3" fill="rgb(190,208,240)" fill-opacity="0.5"/>
<circle cx="526.7" cy="289.2" r="4.3" fill="rgb(190,208,240)" fill-opacity="0.5"/>
<circle cx="526" cy="276.6" r="4.3" fill="rgb(190,208,240)" fill-opacity="0.5"/>
<line x1="550.00" y1="91.00" x2="587.10" y2="103.60" stroke="rgb(205,205,205)" stroke-width="0.9" stroke-opacity="0.75"/>
<line x1="555.00" y1="90.00" x2="599.10" y2="99.20" stroke="rgb(205,205,205)" stroke-width="0.9" stroke-opacity="0.75"/>
<line x1="560.00" y1="92.00" x2="592.60" y2="127.70" stroke="rgb(205,205,205)" stroke-width="0.9" stroke-opacity="0.75"/>
<line x1="565.00" y1="91.00" x2="588.20" y2="148.50" stroke="rgb(205,205,205)" stroke-width="0.9" stroke-opacity="0.75"/>
<line x1="553.00" y1="95.00" x2="597.00" y2="154.00" stroke="rgb(205,205,205)" stroke-width="0.9" stroke-opacity="0.75"/>
<line x1="561.90" y1="106.90" x2="587.10" y2="156.20" stroke="rgb(205,205,205)" stroke-width="0.9" stroke-opacity="0.75"/>
<line x1="559.70" y1="116.80" x2="589.30" y2="164.20" stroke="rgb(205,205,205)" stroke-width="0.9" stroke-opacity="0.75"/>
<line x1="554.20" y1="120.00" x2="591.50" y2="175.20" stroke="rgb(205,205,205)" stroke-width="0.9" stroke-opacity="0.75"/>
<line x1="553.10" y1="128.80" x2="588.70" y2="188.90" stroke="rgb(205,205,205)" stroke-width="0.9" stroke-opacity="0.75"/>
<line x1="563.00" y1="128.80" x2="597.50" y2="194.90" stroke="rgb(205,205,205)" stroke-width="0.9" stroke-opacity="0.75"/>
<line x1="553.10" y1="137.60" x2="592.00" y2="199.80" stroke="rgb(205,205,205)" stroke-width="0.9" stroke-opacity="0.75"/>
<line x1="555.30" y1="146.30" x2="595.30" y2="220.10" stroke="rgb(205,205,205)" stroke-width="0.9" stroke-opacity="0.75"/>
<line x1="554.20" y1="163.70" x2="592.90" y2="264.50" stroke="rgb(205,205,205)" stroke-width="0.9" stroke-opacity="0.75"/>
<line x1="556.40" y1="167.50" x2="595.40" y2="221.70" stroke="rgb(205,205,205)" stroke-width="0.9" stroke-opacity="0.75"/>
<line x1="557.50" y1="170.80" x2="590.30" y2="225.10" stroke="rgb(205,205,205)" stroke-width="0.9" stroke-opacity="0.75"/>
<line x1="556.40" y1="204.80" x2="597.00" y2="232.60" stroke="rgb(205,205,205)" stroke-width="0.9" stroke-opacity="0.75"/>
<line x1="556.00" y1="220.80" x2="586.10" y2="264.50" stroke="rgb(205,205,205)" stroke-width="0.9" stroke-opacity="0.75"/>
<line x1="562.70" y1="242.70" x2="589.30" y2="222.30" stroke="rgb(205,205,205)" stroke-width="0.9" stroke-opacity="0.75"/>
<line x1="558.00" y1="98.00" x2="587.80" y2="271.20" stroke="rgb(205,205,205)" stroke-width="0.9" stroke-opacity="0.75"/>
<line x1="551.00" y1="110.00" x2="592.00" y2="280.40" stroke="rgb(205,205,205)" stroke-width="0.9" stroke-opacity="0.75"/>
<line x1="564.00" y1="100.00" x2="587.00" y2="354.30" stroke="rgb(205,205,205)" stroke-width="0.9" stroke-opacity="0.75"/>
<line x1="557.00" y1="93.00" x2="597.00" y2="360.10" stroke="rgb(205,205,205)" stroke-width="0.9" stroke-opacity="0.75"/>
<circle cx="550" cy="91" r="4.3" fill="rgb(241,172,170)" fill-opacity="0.55"/>
<circle cx="555" cy="90" r="4.3" fill="rgb(241,172,170)" fill-opacity="0.55"/>
<circle cx="560" cy="92" r="4.3" fill="rgb(241,172,170)" fill-opacity="0.55"/>
<circle cx="565" cy="91" r="4.3" fill="rgb(241,172,170)" fill-opacity="0.55"/>
<circle cx="553" cy="95" r="4.3" fill="rgb(241,172,170)" fill-opacity="0.55"/>
<circle cx="561.9" cy="106.9" r="4.3" fill="rgb(241,172,170)" fill-opacity="0.55"/>
<circle cx="559.7" cy="116.8" r="4.3" fill="rgb(241,172,170)" fill-opacity="0.55"/>
<circle cx="554.2" cy="120" r="4.3" fill="rgb(241,172,170)" fill-opacity="0.55"/>
<circle cx="553.1" cy="128.8" r="4.3" fill="rgb(241,172,170)" fill-opacity="0.55"/>
<circle cx="563" cy="128.8" r="4.3" fill="rgb(241,172,170)" fill-opacity="0.55"/>
<circle cx="553.1" cy="137.6" r="4.3" fill="rgb(241,172,170)" fill-opacity="0.55"/>
<circle cx="555.3" cy="146.3" r="4.3" fill="rgb(241,172,170)" fill-opacity="0.55"/>
<circle cx="554.2" cy="163.7" r="4.3" fill="rgb(241,172,170)" fill-opacity="0.55"/>
<circle cx="556.4" cy="167.5" r="4.3" fill="rgb(241,172,170)" fill-opacity="0.55"/>
<circle cx="557.5" cy="170.8" r="4.3" fill="rgb(241,172,170)" fill-opacity="0.55"/>
<circle cx="556.4" cy="204.8" r="4.3" fill="rgb(241,172,170)" fill-opacity="0.55"/>
<circle cx="556" cy="220.8" r="4.3" fill="rgb(241,172,170)" fill-opacity="0.55"/>
<circle cx="562.7" cy="242.7" r="4.3" fill="rgb(241,172,170)" fill-opacity="0.55"/>
<circle cx="558" cy="98" r="4.3" fill="rgb(241,172,170)" fill-opacity="0.55"/>
<circle cx="551" cy="110" r="4.3" fill="rgb(241,172,170)" fill-opacity="0.55"/>
<circle cx="564" cy="100" r="4.3" fill="rgb(241,172,170)" fill-opacity="0.55"/>
<circle cx="557" cy="93" r="4.3" fill="rgb(241,172,170)" fill-opacity="0.55"/>
<circle cx="587.1" cy="103.6" r="4.3" fill="rgb(190,208,240)" fill-opacity="0.5"/>
<circle cx="599.1" cy="99.2" r="4.3" fill="rgb(190,208,240)" fill-opacity="0.5"/>
<circle cx="592.6" cy="127.7" r="4.3" fill="rgb(190,208,240)" fill-opacity="0.5"/>
<circle cx="588.2" cy="148.5" r="4.3" fill="rgb(190,208,240)" fill-opacity="0.5"/>
<circle cx="597" cy="154" r="4.3" fill="rgb(190,208,240)" fill-opacity="0.5"/>
<circle cx="587.1" cy="156.2" r="4.3" fill="rgb(190,208,240)" fill-opacity="0.5"/>
<circle cx="589.3" cy="164.2" r="4.3" fill="rgb(190,208,240)" fill-opacity="0.5"/>
<circle cx="591.5" cy="175.2" r="4.3" fill="rgb(190,208,240)" fill-opacity="0.5"/>
<circle cx="588.7" cy="188.9" r="4.3" fill="rgb(190,208,240)" fill-opacity="0.5"/>
<circle cx="597.5" cy="194.9" r="4.3" fill="rgb(190,208,240)" fill-opacity="0.5"/>
<circle cx="592" cy="199.8" r="4.3" fill="rgb(190,208,240)" fill-opacity="0.5"/>
<circle cx="595.3" cy="220.1" r="4.3" fill="rgb(190,208,240)" fill-opacity="0.5"/>
<circle cx="592.9" cy="264.5" r="4.3" fill="rgb(190,208,240)" fill-opacity="0.5"/>
<circle cx="595.4" cy="221.7" r="4.3" fill="rgb(190,208,240)" fill-opacity="0.5"/>
<circle cx="590.3" cy="225.1" r="4.3" fill="rgb(190,208,240)" fill-opacity="0.5"/>
<circle cx="597" cy="232.6" r="4.3" fill="rgb(190,208,240)" fill-opacity="0.5"/>
<circle cx="586.1" cy="264.5" r="4.3" fill="rgb(190,208,240)" fill-opacity="0.5"/>
<circle cx="589.3" cy="222.3" r="4.3" fill="rgb(190,208,240)" fill-opacity="0.5"/>
<circle cx="587.8" cy="271.2" r="4.3" fill="rgb(190,208,240)" fill-opacity="0.5"/>
<circle cx="592" cy="280.4" r="4.3" fill="rgb(190,208,240)" fill-opacity="0.5"/>
<circle cx="587" cy="354.3" r="4.3" fill="rgb(190,208,240)" fill-opacity="0.5"/>
<circle cx="597" cy="360.1" r="4.3" fill="rgb(190,208,240)" fill-opacity="0.5"/>
<line x1="628.60" y1="91.60" x2="668.00" y2="94.90" stroke="rgb(205,205,205)" stroke-width="0.9" stroke-opacity="0.75"/>
<line x1="636.30" y1="94.90" x2="668.60" y2="103.60" stroke="rgb(205,205,205)" stroke-width="0.9" stroke-opacity="0.75"/>
<line x1="627.50" y1="105.80" x2="660.70" y2="124.70" stroke="rgb(205,205,205)" stroke-width="0.9" stroke-opacity="0.75"/>
<line x1="635.20" y1="103.60" x2="658.20" y2="132.10" stroke="rgb(205,205,205)" stroke-width="0.9" stroke-opacity="0.75"/>
<line x1="622.00" y1="117.30" x2="669.40" y2="146.20" stroke="rgb(205,205,205)" stroke-width="0.9" stroke-opacity="0.75"/>
<line x1="633.50" y1="120.60" x2="657.30" y2="160.30" stroke="rgb(205,205,205)" stroke-width="0.9" stroke-opacity="0.75"/>
<line x1="626.40" y1="125.40" x2="669.40" y2="178.40" stroke="rgb(205,205,205)" stroke-width="0.9" stroke-opacity="0.75"/>
<line x1="635.10" y1="122.00" x2="664.00" y2="208.00" stroke="rgb(205,205,205)" stroke-width="0.9" stroke-opacity="0.75"/>
<line x1="625.70" y1="136.10" x2="665.40" y2="212.70" stroke="rgb(205,205,205)" stroke-width="0.9" stroke-opacity="0.75"/>
<line x1="635.10" y1="136.10" x2="657.60" y2="164.10" stroke="rgb(205,205,205)" stroke-width="0.9" stroke-opacity="0.75"/>
<line x1="622.40" y1="146.20" x2="664.70" y2="230.10" stroke="rgb(205,205,205)" stroke-width="0.9" stroke-opacity="0.75"/>
<line x1="633.10" y1="156.30" x2="662.70" y2="204.60" stroke="rgb(205,205,205)" stroke-width="0.9" stroke-opacity="0.75"/>
<line x1="631.10" y1="185.80" x2="658.20" y2="144.20" stroke="rgb(205,205,205)" stroke-width="0.9" stroke-opacity="0.75"/>
<line x1="629.10" y1="197.20" x2="660.70" y2="183.10" stroke="rgb(205,205,205)" stroke-width="0.9" stroke-opacity="0.75"/>
<circle cx="628.6" cy="91.6" r="4.3" fill="rgb(241,172,170)" fill-opacity="0.55"/>
<circle cx="636.3" cy="94.9" r="4.3" fill="rgb(241,172,170)" fill-opacity="0.55"/>
<circle cx="627.5" cy="105.8" r="4.3" fill="rgb(241,172,170)" fill-opacity="0.55"/>
<circle cx="635.2" cy="103.6" r="4.3" fill="rgb(241,172,170)" fill-opacity="0.55"/>
<circle cx="622" cy="117.3" r="4.3" fill="rgb(241,172,170)" fill-opacity="0.55"/>
<circle cx="633.5" cy="120.6" r="4.3" fill="rgb(241,172,170)" fill-opacity="0.55"/>
<circle cx="626.4" cy="125.4" r="4.3" fill="rgb(241,172,170)" fill-opacity="0.55"/>
<circle cx="635.1" cy="122" r="4.3" fill="rgb(241,172,170)" fill-opacity="0.55"/>
<circle cx="625.7" cy="136.1" r="4.3" fill="rgb(241,172,170)" fill-opacity="0.55"/>
<circle cx="635.1" cy="136.1" r="4.3" fill="rgb(241,172,170)" fill-opacity="0.55"/>
<circle cx="622.4" cy="146.2" r="4.3" fill="rgb(241,172,170)" fill-opacity="0.55"/>
<circle cx="633.1" cy="156.3" r="4.3" fill="rgb(241,172,170)" fill-opacity="0.55"/>
<circle cx="631.1" cy="185.8" r="4.3" fill="rgb(241,172,170)" fill-opacity="0.55"/>
<circle cx="629.1" cy="197.2" r="4.3" fill="rgb(241,172,170)" fill-opacity="0.55"/>
<circle cx="668" cy="94.9" r="4.3" fill="rgb(190,208,240)" fill-opacity="0.5"/>
<circle cx="668.6" cy="103.6" r="4.3" fill="rgb(190,208,240)" fill-opacity="0.5"/>
<circle cx="660.7" cy="124.7" r="4.3" fill="rgb(190,208,240)" fill-opacity="0.5"/>
<circle cx="658.2" cy="132.1" r="4.3" fill="rgb(190,208,240)" fill-opacity="0.5"/>
<circle cx="669.4" cy="146.2" r="4.3" fill="rgb(190,208,240)" fill-opacity="0.5"/>
<circle cx="657.3" cy="160.3" r="4.3" fill="rgb(190,208,240)" fill-opacity="0.5"/>
<circle cx="669.4" cy="178.4" r="4.3" fill="rgb(190,208,240)" fill-opacity="0.5"/>
<circle cx="664" cy="208" r="4.3" fill="rgb(190,208,240)" fill-opacity="0.5"/>
<circle cx="665.4" cy="212.7" r="4.3" fill="rgb(190,208,240)" fill-opacity="0.5"/>
<circle cx="657.6" cy="164.1" r="4.3" fill="rgb(190,208,240)" fill-opacity="0.5"/>
<circle cx="664.7" cy="230.1" r="4.3" fill="rgb(190,208,240)" fill-opacity="0.5"/>
<circle cx="662.7" cy="204.6" r="4.3" fill="rgb(190,208,240)" fill-opacity="0.5"/>
<circle cx="658.2" cy="144.2" r="4.3" fill="rgb(190,208,240)" fill-opacity="0.5"/>
<circle cx="660.7" cy="183.1" r="4.3" fill="rgb(190,208,240)" fill-opacity="0.5"/>
<line x1="488.50" y1="127.00" x2="488.50" y2="151.50" stroke="#2d2f36" stroke-width="1.0"/>
<line x1="523.50" y1="158.00" x2="523.50" y2="193.90" stroke="#2d2f36" stroke-width="1.0"/>
<line x1="558.50" y1="119.40" x2="558.50" y2="151.50" stroke="#2d2f36" stroke-width="1.0"/>
<line x1="593.50" y1="189.20" x2="593.50" y2="242.40" stroke="#2d2f36" stroke-width="1.0"/>
<line x1="628.50" y1="118.30" x2="628.50" y2="148.00" stroke="#2d2f36" stroke-width="1.0"/>
<line x1="663.50" y1="142.20" x2="663.50" y2="181.70" stroke="#2d2f36" stroke-width="1.0"/>
<line x1="467.70" y1="30.20" x2="467.70" y2="361.75" stroke="#4a4a4a" stroke-width="1.1"/>
<line x1="467.15" y1="361.20" x2="684.00" y2="361.20" stroke="#4a4a4a" stroke-width="1.1"/>
<line x1="488.60" y1="361.20" x2="488.60" y2="368.20" stroke="#4a4a4a" stroke-width="1.1"/>
<line x1="523.40" y1="361.20" x2="523.40" y2="368.20" stroke="#4a4a4a" stroke-width="1.1"/>
<line x1="558.60" y1="361.20" x2="558.60" y2="368.20" stroke="#4a4a4a" stroke-width="1.1"/>
<line x1="593.40" y1="361.20" x2="593.40" y2="368.20" stroke="#4a4a4a" stroke-width="1.1"/>
<line x1="628.20" y1="361.20" x2="628.20" y2="368.20" stroke="#4a4a4a" stroke-width="1.1"/>
<line x1="663.00" y1="361.20" x2="663.00" y2="368.20" stroke="#4a4a4a" stroke-width="1.1"/>
<line x1="460.00" y1="294.08" x2="467.70" y2="294.08" stroke="#4a4a4a" stroke-width="1.1"/>
<text x="452.0" y="300.2" font-size="16.3" text-anchor="end" font-weight="normal" fill="#222" textLength="29.7" lengthAdjust="spacingAndGlyphs">0.25</text>
<line x1="460.00" y1="226.85" x2="467.70" y2="226.85" stroke="#4a4a4a" stroke-width="1.1"/>
<text x="452.0" y="233.0" font-size="16.3" text-anchor="end" font-weight="normal" fill="#222" textLength="32.0" lengthAdjust="spacingAndGlyphs">0.50</text>
<line x1="460.00" y1="159.63" x2="467.70" y2="159.63" stroke="#4a4a4a" stroke-width="1.1"/>
<text x="452.0" y="165.7" font-size="16.3" text-anchor="end" font-weight="normal" fill="#222" textLength="29.7" lengthAdjust="spacingAndGlyphs">0.75</text>
<line x1="460.00" y1="92.40" x2="467.70" y2="92.40" stroke="#4a4a4a" stroke-width="1.1"/>
<text x="452.0" y="98.5" font-size="16.3" text-anchor="end" font-weight="normal" fill="#222" textLength="29.7" lengthAdjust="spacingAndGlyphs">1.00</text>
<path d="M142.3,82.7 V78.3 H214.2 V82.7" fill="none" stroke="#808080" stroke-width="1.2"/>
<text x="162.4" y="74.5" font-size="15.2" text-anchor="start" font-weight="normal" fill="#222" textLength="41.6" lengthAdjust="spacingAndGlyphs">0.002</text>
<path d="M214.2,64.4 V60.0 H285.4 V64.4" fill="none" stroke="#808080" stroke-width="1.2"/>
<text x="230.7" y="56.2" font-size="15.2" text-anchor="start" font-weight="normal" fill="#222" textLength="42.3" lengthAdjust="spacingAndGlyphs">0.009</text>
<path d="M505.8,83.8 V78.3 H575.8 V83.8" fill="none" stroke="#808080" stroke-width="1.2"/>
<text x="525.0" y="75.6" font-size="15.2" text-anchor="start" font-weight="normal" fill="#222" textLength="40.2" lengthAdjust="spacingAndGlyphs">0.026</text>
<path d="M575.8,65.0 V59.8 H645.6 V65.0" fill="none" stroke="#808080" stroke-width="1.2"/>
<text x="594.8" y="56.6" font-size="15.2" text-anchor="start" font-weight="normal" fill="#222" textLength="38.5" lengthAdjust="spacingAndGlyphs">0.010</text>
<line x1="124.90" y1="104.50" x2="160.80" y2="104.50" stroke="#3a3a3a" stroke-width="1.3"/>
<text x="122.8" y="101.4" font-size="15.2" text-anchor="start" font-weight="normal" fill="#222" textLength="46.9" lengthAdjust="spacingAndGlyphs">&lt;0.001</text>
<line x1="196.40" y1="104.30" x2="232.20" y2="104.30" stroke="#3a3a3a" stroke-width="1.3"/>
<text x="194.3" y="101.0" font-size="15.2" text-anchor="start" font-weight="normal" fill="#222" textLength="46.1" lengthAdjust="spacingAndGlyphs">&lt;0.001</text>
<line x1="488.30" y1="105.70" x2="523.30" y2="105.70" stroke="#3a3a3a" stroke-width="1.3"/>
<text x="486.0" y="102.2" font-size="15.2" text-anchor="start" font-weight="normal" fill="#222" textLength="46.4" lengthAdjust="spacingAndGlyphs">&lt;0.001</text>
<line x1="558.60" y1="105.70" x2="593.40" y2="105.70" stroke="#3a3a3a" stroke-width="1.3"/>
<text x="556.4" y="102.0" font-size="15.2" text-anchor="start" font-weight="normal" fill="#222" textLength="46.0" lengthAdjust="spacingAndGlyphs">&lt;0.001</text>
<line x1="628.00" y1="105.70" x2="663.00" y2="105.70" stroke="#3a3a3a" stroke-width="1.3"/>
<text x="625.4" y="102.2" font-size="15.2" text-anchor="start" font-weight="normal" fill="#222" textLength="46.5" lengthAdjust="spacingAndGlyphs">&lt;0.001</text>
<rect x="145.00" y="11.40" width="15.60" height="15.60" fill="#d95f5a" stroke="#3d3d3d" stroke-width="0.9"/>
<text x="169.6" y="24.6" font-size="15.8" text-anchor="start" font-weight="normal" fill="#222" textLength="25.9" lengthAdjust="spacingAndGlyphs">Self</text>
<rect x="222.50" y="11.40" width="15.60" height="15.60" fill="#7b9dd6" stroke="#3d3d3d" stroke-width="0.9"/>
<text x="247.7" y="24.8" font-size="15.8" text-anchor="start" font-weight="normal" fill="#222" textLength="39.5" lengthAdjust="spacingAndGlyphs">Other</text>
<rect x="497.80" y="11.40" width="15.60" height="15.60" fill="#d95f5a" stroke="#3d3d3d" stroke-width="0.9"/>
<text x="522.3" y="24.6" font-size="15.8" text-anchor="start" font-weight="normal" fill="#222" textLength="25.9" lengthAdjust="spacingAndGlyphs">Self</text>
<rect x="575.60" y="11.40" width="15.60" height="15.60" fill="#7b9dd6" stroke="#3d3d3d" stroke-width="0.9"/>
<text x="600.2" y="24.8" font-size="15.8" text-anchor="start" font-weight="normal" fill="#222" textLength="39.5" lengthAdjust="spacingAndGlyphs">Other</text>
<text x="130.5" y="390.4" font-size="16" text-anchor="start" font-weight="normal" fill="#222" textLength="24.1" lengthAdjust="spacingAndGlyphs">HC</text>
<text x="182.8" y="390.4" font-size="16" text-anchor="start" font-weight="normal" fill="#222" textLength="57.5" lengthAdjust="spacingAndGlyphs">vmPFC</text>
<text x="184.1" y="410.3" font-size="16" text-anchor="start" font-weight="normal" fill="#222" textLength="56.2" lengthAdjust="spacingAndGlyphs">lesions</text>
<text x="275.3" y="390.5" font-size="16" text-anchor="start" font-weight="normal" fill="#222" textLength="20.6" lengthAdjust="spacingAndGlyphs">LC</text>
<text x="493.5" y="390.8" font-size="16" text-anchor="start" font-weight="normal" fill="#222" textLength="25.0" lengthAdjust="spacingAndGlyphs">HC</text>
<text x="552.0" y="390.8" font-size="16" text-anchor="start" font-weight="normal" fill="#222" textLength="57.5" lengthAdjust="spacingAndGlyphs">vmPFC</text>
<text x="553.0" y="410.5" font-size="16" text-anchor="start" font-weight="normal" fill="#222" textLength="56.5" lengthAdjust="spacingAndGlyphs">lesions</text>
<text x="634.8" y="390.8" font-size="16" text-anchor="start" font-weight="normal" fill="#222" textLength="21.3" lengthAdjust="spacingAndGlyphs">LC</text>
<text transform="translate(1.2,19.0) scale(1.02,1)" x="0" y="0" font-size="24" font-weight="bold" fill="#000" stroke="#000" stroke-width="0.9">a</text>
<text transform="translate(367.2,19.1) scale(1.02,1)" x="0" y="0" font-size="24" font-weight="bold" fill="#000" stroke="#000" stroke-width="0.9">b</text>
<text transform="translate(1.4,465.4) scale(1.02,1)" x="0" y="0" font-size="24" font-weight="bold" fill="#000" stroke="#000" stroke-width="0.9">c</text>
<text transform="translate(366.9,465.5) scale(1.02,1)" x="0" y="0" font-size="24" font-weight="bold" fill="#000" stroke="#000" stroke-width="0.9">d</text>
<text transform="translate(15.0,99.6) rotate(-90)" x="0" y="0" font-size="18" text-anchor="middle" fill="#222" textLength="106.2" lengthAdjust="spacingAndGlyphs">Larger bonus</text>
<path d="M8.40,40.30 L8.40,29.70 M4.00,34.70 L8.40,29.10 L12.80,34.70" fill="none" stroke="#222" stroke-width="1.35" stroke-linejoin="miter"/>
<text transform="translate(42.0,195.0) rotate(-90)" x="0" y="0" font-size="18.5" text-anchor="middle" fill="#222" textLength="120.8" lengthAdjust="spacingAndGlyphs">Credits earned</text>
<text transform="translate(17.3,282.9) rotate(-90)" x="0" y="0" font-size="18" text-anchor="middle" fill="#222" textLength="118.9" lengthAdjust="spacingAndGlyphs">Smaller bonus</text>
<path d="M11.00,348.50 L11.00,358.90 M6.60,353.90 L11.00,359.50 L15.40,353.90" fill="none" stroke="#222" stroke-width="1.35" stroke-linejoin="miter"/>
<text transform="translate(383.0,90.1) rotate(-90)" x="0" y="0" font-size="18" text-anchor="middle" fill="#222" textLength="89.6" lengthAdjust="spacingAndGlyphs">Work more</text>
<path d="M376.60,39.20 L376.60,29.00 M372.20,34.00 L376.60,28.40 L381.00,34.00" fill="none" stroke="#222" stroke-width="1.35" stroke-linejoin="miter"/>
<text transform="translate(406.0,195.4) rotate(-90)" x="0" y="0" font-size="18.5" text-anchor="middle" fill="#222" textLength="168.1" lengthAdjust="spacingAndGlyphs">Proportion accepted</text>
<text transform="translate(383.2,303.7) rotate(-90)" x="0" y="0" font-size="18" text-anchor="middle" fill="#222" textLength="82.2" lengthAdjust="spacingAndGlyphs">Rest more</text>
<path d="M376.60,351.80 L376.60,362.40 M372.20,357.40 L376.60,363.00 L381.00,357.40" fill="none" stroke="#222" stroke-width="1.35" stroke-linejoin="miter"/>
<text transform="translate(17.4,537.4) rotate(-90)" x="0" y="0" font-size="18" text-anchor="middle" fill="#222" textLength="89.2" lengthAdjust="spacingAndGlyphs">Work more</text>
<path d="M10.80,486.90 L10.80,476.40 M6.40,481.40 L10.80,475.80 L15.20,481.40" fill="none" stroke="#222" stroke-width="1.35" stroke-linejoin="miter"/>
<text transform="translate(42.1,663.0) rotate(-90)" x="0" y="0" font-size="18.5" text-anchor="middle" fill="#222" textLength="167.9" lengthAdjust="spacingAndGlyphs">Proportion accepted</text>
<text transform="translate(17.7,785.0) rotate(-90)" x="0" y="0" font-size="18" text-anchor="middle" fill="#222" textLength="80.5" lengthAdjust="spacingAndGlyphs">Rest more</text>
<path d="M11.20,832.30 L11.20,842.80 M6.80,837.80 L11.20,843.40 L15.60,837.80" fill="none" stroke="#222" stroke-width="1.35" stroke-linejoin="miter"/>
<text transform="translate(383.0,541.1) rotate(-90)" x="0" y="0" font-size="18" text-anchor="middle" fill="#222" textLength="89.0" lengthAdjust="spacingAndGlyphs">Work more</text>
<path d="M376.50,490.70 L376.50,480.20 M372.10,485.20 L376.50,479.60 L380.90,485.20" fill="none" stroke="#222" stroke-width="1.35" stroke-linejoin="miter"/>
<text transform="translate(405.3,663.0) rotate(-90)" x="0" y="0" font-size="18.5" text-anchor="middle" fill="#222" textLength="167.9" lengthAdjust="spacingAndGlyphs">Proportion accepted</text>
<text transform="translate(383.0,788.2) rotate(-90)" x="0" y="0" font-size="18" text-anchor="middle" fill="#222" textLength="81.3" lengthAdjust="spacingAndGlyphs">Rest more</text>
<path d="M376.50,836.00 L376.50,846.50 M372.10,841.50 L376.50,847.10 L380.90,841.50" fill="none" stroke="#222" stroke-width="1.35" stroke-linejoin="miter"/>
<path d="M113.10,554.66 L116.43,555.68 L119.76,556.70 L123.10,557.73 L126.43,558.77 L129.76,559.81 L133.09,560.87 L136.43,561.94 L139.76,563.01 L143.09,564.09 L146.42,565.19 L149.75,566.29 L153.09,567.40 L156.42,568.52 L159.75,569.65 L163.08,570.79 L166.42,571.94 L169.75,573.09 L173.08,574.26 L176.41,575.43 L179.74,576.62 L183.08,577.81 L186.41,579.01 L189.74,580.22 L193.07,581.44 L196.41,582.67 L199.74,583.91 L203.07,585.15 L206.40,586.40 L209.73,587.67 L213.07,588.94 L216.40,590.21 L219.73,591.50 L223.06,592.80 L226.39,594.10 L229.73,595.41 L233.06,596.73 L236.39,598.05 L239.72,599.38 L243.06,600.72 L246.39,602.07 L249.72,603.42 L253.05,604.78 L256.38,606.15 L259.72,607.53 L263.05,608.91 L266.38,610.29 L269.71,611.68 L273.05,613.08 L276.38,614.48 L279.71,615.89 L283.04,617.31 L286.37,618.72 L289.71,620.15 L293.04,621.57 L296.37,623.01 L299.70,624.44 L303.04,625.88 L306.37,627.32 L309.70,628.77 L309.70,647.42 L306.37,645.74 L303.04,644.07 L299.70,642.42 L296.37,640.77 L293.04,639.13 L289.71,637.49 L286.37,635.87 L283.04,634.26 L279.71,632.66 L276.38,631.07 L273.05,629.49 L269.71,627.92 L266.38,626.36 L263.05,624.82 L259.72,623.28 L256.38,621.76 L253.05,620.25 L249.72,618.75 L246.39,617.26 L243.06,615.78 L239.72,614.32 L236.39,612.87 L233.06,611.43 L229.73,610.01 L226.39,608.60 L223.06,607.20 L219.73,605.81 L216.40,604.44 L213.07,603.08 L209.73,601.74 L206.40,600.41 L203.07,599.09 L199.74,597.79 L196.41,596.50 L193.07,595.22 L189.74,593.96 L186.41,592.71 L183.08,591.48 L179.74,590.26 L176.41,589.06 L173.08,587.87 L169.75,586.69 L166.42,585.53 L163.08,584.38 L159.75,583.25 L156.42,582.13 L153.09,581.03 L149.75,579.94 L146.42,578.87 L143.09,577.81 L139.76,576.76 L136.43,575.73 L133.09,574.71 L129.76,573.71 L126.43,572.72 L123.10,571.75 L119.76,570.79 L116.43,569.85 L113.10,568.91 Z" fill="rgb(150,95,145)" fill-opacity="0.5" stroke="none"/>
<path d="M113.10,519.74 L116.43,520.51 L119.76,521.30 L123.10,522.11 L126.43,522.93 L129.76,523.78 L133.09,524.64 L136.43,525.52 L139.76,526.42 L143.09,527.34 L146.42,528.28 L149.75,529.24 L153.09,530.23 L156.42,531.23 L159.75,532.25 L163.08,533.30 L166.42,534.37 L169.75,535.47 L173.08,536.58 L176.41,537.72 L179.74,538.89 L183.08,540.07 L186.41,541.29 L189.74,542.52 L193.07,543.79 L196.41,545.08 L199.74,546.39 L203.07,547.73 L206.40,549.10 L209.73,550.49 L213.07,551.91 L216.40,553.36 L219.73,554.83 L223.06,556.33 L226.39,557.86 L229.73,559.41 L233.06,561.00 L236.39,562.61 L239.72,564.24 L243.06,565.91 L246.39,567.60 L249.72,569.32 L253.05,571.07 L256.38,572.84 L259.72,574.65 L263.05,576.47 L266.38,578.33 L269.71,580.21 L273.05,582.11 L276.38,584.05 L279.71,586.00 L283.04,587.98 L286.37,589.99 L289.71,592.02 L293.04,594.07 L296.37,596.14 L299.70,598.24 L303.04,600.36 L306.37,602.49 L309.70,604.65 L309.70,627.55 L306.37,625.03 L303.04,622.53 L299.70,620.07 L296.37,617.62 L293.04,615.21 L289.71,612.82 L286.37,610.47 L283.04,608.14 L279.71,605.84 L276.38,603.57 L273.05,601.34 L269.71,599.13 L266.38,596.96 L263.05,594.82 L259.72,592.71 L256.38,590.63 L253.05,588.59 L249.72,586.57 L246.39,584.59 L243.06,582.65 L239.72,580.74 L236.39,578.86 L233.06,577.01 L229.73,575.20 L226.39,573.42 L223.06,571.67 L219.73,569.96 L216.40,568.28 L213.07,566.63 L209.73,565.02 L206.40,563.43 L203.07,561.88 L199.74,560.36 L196.41,558.88 L193.07,557.42 L189.74,556.00 L186.41,554.61 L183.08,553.25 L179.74,551.91 L176.41,550.61 L173.08,549.34 L169.75,548.10 L166.42,546.89 L163.08,545.70 L159.75,544.55 L156.42,543.42 L153.09,542.32 L149.75,541.24 L146.42,540.20 L143.09,539.18 L139.76,538.18 L136.43,537.21 L133.09,536.27 L129.76,535.35 L126.43,534.45 L123.10,533.58 L119.76,532.74 L116.43,531.91 L113.10,531.11 Z" fill="rgb(180,188,155)" fill-opacity="0.45" stroke="none"/>
<path d="M113.10,516.94 L116.43,517.83 L119.76,518.74 L123.10,519.70 L126.43,520.68 L129.76,521.70 L133.09,522.76 L136.43,523.86 L139.76,524.99 L143.09,526.17 L146.42,527.38 L149.75,528.64 L153.09,529.94 L156.42,531.29 L159.75,532.68 L163.08,534.11 L166.42,535.60 L169.75,537.13 L173.08,538.72 L176.41,540.35 L179.74,542.04 L183.08,543.78 L186.41,545.58 L189.74,547.42 L193.07,549.33 L196.41,551.29 L199.74,553.30 L203.07,555.38 L206.40,557.51 L209.73,559.70 L213.07,561.95 L216.40,564.25 L219.73,566.62 L223.06,569.05 L226.39,571.53 L229.73,574.07 L233.06,576.68 L236.39,579.34 L239.72,582.05 L243.06,584.83 L246.39,587.65 L249.72,590.54 L253.05,593.48 L256.38,596.46 L259.72,599.50 L263.05,602.59 L266.38,605.73 L269.71,608.91 L273.05,612.13 L276.38,615.40 L279.71,618.70 L283.04,622.04 L286.37,625.41 L289.71,628.81 L293.04,632.24 L296.37,635.69 L299.70,639.16 L303.04,642.65 L306.37,646.16 L309.70,649.68 L309.70,665.78 L306.37,662.03 L303.04,658.29 L299.70,654.57 L296.37,650.86 L293.04,647.18 L289.71,643.53 L286.37,639.91 L283.04,636.32 L279.71,632.77 L276.38,629.25 L273.05,625.78 L269.71,622.35 L266.38,618.96 L263.05,615.63 L259.72,612.34 L256.38,609.11 L253.05,605.92 L249.72,602.80 L246.39,599.73 L243.06,596.72 L239.72,593.76 L236.39,590.87 L233.06,588.03 L229.73,585.26 L226.39,582.55 L223.06,579.90 L219.73,577.31 L216.40,574.78 L213.07,572.32 L209.73,569.91 L206.40,567.57 L203.07,565.29 L199.74,563.07 L196.41,560.91 L193.07,558.81 L189.74,556.77 L186.41,554.79 L183.08,552.86 L179.74,551.00 L176.41,549.18 L173.08,547.42 L169.75,545.72 L166.42,544.07 L163.08,542.47 L159.75,540.92 L156.42,539.42 L153.09,537.97 L149.75,536.56 L146.42,535.21 L143.09,533.89 L139.76,532.63 L136.43,531.40 L133.09,530.22 L129.76,529.07 L126.43,527.97 L123.10,526.91 L119.76,525.88 L116.43,524.89 L113.10,523.93 Z" fill="rgb(224,150,115)" fill-opacity="0.42" stroke="none"/>
<path d="M113.10,561.79 L116.43,562.76 L119.76,563.74 L123.10,564.74 L126.43,565.74 L129.76,566.76 L133.09,567.79 L136.43,568.83 L139.76,569.89 L143.09,570.95 L146.42,572.03 L149.75,573.12 L153.09,574.22 L156.42,575.33 L159.75,576.45 L163.08,577.59 L166.42,578.73 L169.75,579.89 L173.08,581.06 L176.41,582.25 L179.74,583.44 L183.08,584.65 L186.41,585.86 L189.74,587.09 L193.07,588.33 L196.41,589.58 L199.74,590.85 L203.07,592.12 L206.40,593.41 L209.73,594.70 L213.07,596.01 L216.40,597.33 L219.73,598.66 L223.06,600.00 L226.39,601.35 L229.73,602.71 L233.06,604.08 L236.39,605.46 L239.72,606.85 L243.06,608.25 L246.39,609.66 L249.72,611.09 L253.05,612.52 L256.38,613.96 L259.72,615.40 L263.05,616.86 L266.38,618.33 L269.71,619.80 L273.05,621.29 L276.38,622.78 L279.71,624.28 L283.04,625.78 L286.37,627.30 L289.71,628.82 L293.04,630.35 L296.37,631.89 L299.70,633.43 L303.04,634.98 L306.37,636.53 L309.70,638.09" fill="none" stroke="#4b0c3e" stroke-width="2.8"/>
<path d="M113.10,525.42 L116.43,526.21 L119.76,527.02 L123.10,527.85 L126.43,528.69 L129.76,529.56 L133.09,530.45 L136.43,531.37 L139.76,532.30 L143.09,533.26 L146.42,534.24 L149.75,535.24 L153.09,536.27 L156.42,537.32 L159.75,538.40 L163.08,539.50 L166.42,540.63 L169.75,541.78 L173.08,542.96 L176.41,544.17 L179.74,545.40 L183.08,546.66 L186.41,547.95 L189.74,549.26 L193.07,550.61 L196.41,551.98 L199.74,553.38 L203.07,554.81 L206.40,556.26 L209.73,557.75 L213.07,559.27 L216.40,560.82 L219.73,562.39 L223.06,564.00 L226.39,565.64 L229.73,567.31 L233.06,569.00 L236.39,570.73 L239.72,572.49 L243.06,574.28 L246.39,576.10 L249.72,577.95 L253.05,579.83 L256.38,581.74 L259.72,583.68 L263.05,585.65 L266.38,587.64 L269.71,589.67 L273.05,591.73 L276.38,593.81 L279.71,595.92 L283.04,598.06 L286.37,600.23 L289.71,602.42 L293.04,604.64 L296.37,606.88 L299.70,609.15 L303.04,611.45 L306.37,613.76 L309.70,616.10" fill="none" stroke="#7d965e" stroke-width="2.6" stroke-dasharray="2.6 7.5"/>
<path d="M113.10,520.44 L116.43,521.36 L119.76,522.31 L123.10,523.30 L126.43,524.33 L129.76,525.39 L133.09,526.49 L136.43,527.63 L139.76,528.81 L143.09,530.03 L146.42,531.29 L149.75,532.60 L153.09,533.95 L156.42,535.35 L159.75,536.80 L163.08,538.29 L166.42,539.83 L169.75,541.43 L173.08,543.07 L176.41,544.77 L179.74,546.52 L183.08,548.32 L186.41,550.18 L189.74,552.10 L193.07,554.07 L196.41,556.10 L199.74,558.19 L203.07,560.33 L206.40,562.54 L209.73,564.81 L213.07,567.13 L216.40,569.52 L219.73,571.96 L223.06,574.47 L226.39,577.04 L229.73,579.67 L233.06,582.35 L236.39,585.10 L239.72,587.91 L243.06,590.77 L246.39,593.69 L249.72,596.67 L253.05,599.70 L256.38,602.79 L259.72,605.92 L263.05,609.11 L266.38,612.35 L269.71,615.63 L273.05,618.96 L276.38,622.32 L279.71,625.73 L283.04,629.18 L286.37,632.66 L289.71,636.17 L293.04,639.71 L296.37,643.28 L299.70,646.86 L303.04,650.47 L306.37,654.09 L309.70,657.73" fill="none" stroke="#c6652f" stroke-width="2.6" stroke-dasharray="10.6 9.6"/>
<line x1="103.50" y1="481.40" x2="103.50" y2="845.55" stroke="#4a4a4a" stroke-width="1.1"/>
<line x1="102.95" y1="845.00" x2="319.50" y2="845.00" stroke="#4a4a4a" stroke-width="1.1"/>
<line x1="113.10" y1="845.00" x2="113.10" y2="852.60" stroke="#4a4a4a" stroke-width="1.1"/>
<text x="113.1" y="870.6" font-size="16" text-anchor="middle" font-weight="normal" fill="#222">2</text>
<line x1="162.25" y1="845.00" x2="162.25" y2="852.60" stroke="#4a4a4a" stroke-width="1.1"/>
<text x="162.2" y="870.6" font-size="16" text-anchor="middle" font-weight="normal" fill="#222">3</text>
<line x1="211.40" y1="845.00" x2="211.40" y2="852.60" stroke="#4a4a4a" stroke-width="1.1"/>
<text x="211.4" y="870.6" font-size="16" text-anchor="middle" font-weight="normal" fill="#222">4</text>
<line x1="260.55" y1="845.00" x2="260.55" y2="852.60" stroke="#4a4a4a" stroke-width="1.1"/>
<text x="260.5" y="870.6" font-size="16" text-anchor="middle" font-weight="normal" fill="#222">5</text>
<line x1="309.70" y1="845.00" x2="309.70" y2="852.60" stroke="#4a4a4a" stroke-width="1.1"/>
<text x="309.7" y="870.6" font-size="16" text-anchor="middle" font-weight="normal" fill="#222">6</text>
<line x1="95.70" y1="828.70" x2="103.50" y2="828.70" stroke="#4a4a4a" stroke-width="1.1"/>
<line x1="95.70" y1="745.90" x2="103.50" y2="745.90" stroke="#4a4a4a" stroke-width="1.1"/>
<line x1="95.70" y1="663.10" x2="103.50" y2="663.10" stroke="#4a4a4a" stroke-width="1.1"/>
<line x1="95.70" y1="580.30" x2="103.50" y2="580.30" stroke="#4a4a4a" stroke-width="1.1"/>
<line x1="95.70" y1="497.50" x2="103.50" y2="497.50" stroke="#4a4a4a" stroke-width="1.1"/>
<text x="167.8" y="893.0" font-size="18.5" text-anchor="start" font-weight="normal" fill="#222" textLength="87.6" lengthAdjust="spacingAndGlyphs">Effort level</text>
<path d="M477.40,635.84 L480.73,634.21 L484.06,632.58 L487.40,630.95 L490.73,629.32 L494.06,627.70 L497.39,626.07 L500.73,624.44 L504.06,622.82 L507.39,621.20 L510.72,619.59 L514.05,617.98 L517.39,616.37 L520.72,614.76 L524.05,613.17 L527.38,611.57 L530.72,609.98 L534.05,608.40 L537.38,606.83 L540.71,605.25 L544.04,603.69 L547.38,602.13 L550.71,600.59 L554.04,599.04 L557.37,597.51 L560.71,595.98 L564.04,594.47 L567.37,592.96 L570.70,591.46 L574.03,589.96 L577.37,588.48 L580.70,587.01 L584.03,585.54 L587.36,584.09 L590.69,582.64 L594.03,581.21 L597.36,579.78 L600.69,578.36 L604.02,576.96 L607.36,575.56 L610.69,574.18 L614.02,572.80 L617.35,571.44 L620.68,570.08 L624.02,568.74 L627.35,567.41 L630.68,566.08 L634.01,564.77 L637.35,563.47 L640.68,562.18 L644.01,560.90 L647.34,559.63 L650.67,558.37 L654.01,557.12 L657.34,555.88 L660.67,554.66 L664.00,553.44 L667.34,552.23 L670.67,551.03 L674.00,549.85 L674.00,562.77 L670.67,563.75 L667.34,564.75 L664.00,565.77 L660.67,566.82 L657.34,567.88 L654.01,568.97 L650.67,570.08 L647.34,571.21 L644.01,572.36 L640.68,573.54 L637.35,574.73 L634.01,575.95 L630.68,577.19 L627.35,578.45 L624.02,579.73 L620.68,581.03 L617.35,582.36 L614.02,583.70 L610.69,585.07 L607.36,586.46 L604.02,587.87 L600.69,589.30 L597.36,590.75 L594.03,592.23 L590.69,593.72 L587.36,595.24 L584.03,596.77 L580.70,598.33 L577.37,599.90 L574.03,601.50 L570.70,603.12 L567.37,604.76 L564.04,606.41 L560.71,608.09 L557.37,609.78 L554.04,611.50 L550.71,613.23 L547.38,614.98 L544.04,616.75 L540.71,618.54 L537.38,620.34 L534.05,622.17 L530.72,624.01 L527.38,625.86 L524.05,627.74 L520.72,629.63 L517.39,631.53 L514.05,633.45 L510.72,635.39 L507.39,637.34 L504.06,639.30 L500.73,641.28 L497.39,643.27 L494.06,645.28 L490.73,647.29 L487.40,649.32 L484.06,651.37 L480.73,653.42 L477.40,655.48 Z" fill="rgb(150,95,145)" fill-opacity="0.5" stroke="none"/>
<path d="M477.40,614.72 L480.73,611.99 L484.06,609.29 L487.40,606.61 L490.73,603.96 L494.06,601.34 L497.39,598.75 L500.73,596.20 L504.06,593.68 L507.39,591.19 L510.72,588.73 L514.05,586.32 L517.39,583.93 L520.72,581.59 L524.05,579.29 L527.38,577.02 L530.72,574.80 L534.05,572.61 L537.38,570.47 L540.71,568.36 L544.04,566.30 L547.38,564.28 L550.71,562.30 L554.04,560.36 L557.37,558.46 L560.71,556.60 L564.04,554.79 L567.37,553.01 L570.70,551.28 L574.03,549.58 L577.37,547.93 L580.70,546.31 L584.03,544.74 L587.36,543.20 L590.69,541.70 L594.03,540.24 L597.36,538.82 L600.69,537.44 L604.02,536.09 L607.36,534.77 L610.69,533.49 L614.02,532.25 L617.35,531.04 L620.68,529.86 L624.02,528.71 L627.35,527.60 L630.68,526.51 L634.01,525.46 L637.35,524.44 L640.68,523.44 L644.01,522.48 L647.34,521.54 L650.67,520.63 L654.01,519.74 L657.34,518.88 L660.67,518.04 L664.00,517.23 L667.34,516.44 L670.67,515.68 L674.00,514.94 L674.00,525.18 L670.67,526.00 L667.34,526.85 L664.00,527.73 L660.67,528.63 L657.34,529.56 L654.01,530.53 L650.67,531.52 L647.34,532.54 L644.01,533.60 L640.68,534.69 L637.35,535.81 L634.01,536.97 L630.68,538.16 L627.35,539.38 L624.02,540.65 L620.68,541.94 L617.35,543.28 L614.02,544.65 L610.69,546.07 L607.36,547.52 L604.02,549.01 L600.69,550.54 L597.36,552.12 L594.03,553.73 L590.69,555.39 L587.36,557.09 L584.03,558.83 L580.70,560.62 L577.37,562.45 L574.03,564.33 L570.70,566.25 L567.37,568.22 L564.04,570.23 L560.71,572.29 L557.37,574.39 L554.04,576.54 L550.71,578.74 L547.38,580.98 L544.04,583.27 L540.71,585.61 L537.38,587.99 L534.05,590.42 L530.72,592.89 L527.38,595.41 L524.05,597.97 L520.72,600.57 L517.39,603.22 L514.05,605.92 L510.72,608.65 L507.39,611.43 L504.06,614.24 L500.73,617.10 L497.39,619.99 L494.06,622.92 L490.73,625.89 L487.40,628.89 L484.06,631.92 L480.73,634.99 L477.40,638.08 Z" fill="rgb(180,188,155)" fill-opacity="0.45" stroke="none"/>
<path d="M477.40,629.67 L480.73,627.21 L484.06,624.75 L487.40,622.32 L490.73,619.90 L494.06,617.49 L497.39,615.11 L500.73,612.75 L504.06,610.40 L507.39,608.08 L510.72,605.78 L514.05,603.51 L517.39,601.25 L520.72,599.02 L524.05,596.82 L527.38,594.64 L530.72,592.49 L534.05,590.37 L537.38,588.27 L540.71,586.21 L544.04,584.17 L547.38,582.16 L550.71,580.18 L554.04,578.23 L557.37,576.31 L560.71,574.42 L564.04,572.56 L567.37,570.73 L570.70,568.93 L574.03,567.17 L577.37,565.43 L580.70,563.73 L584.03,562.05 L587.36,560.41 L590.69,558.80 L594.03,557.22 L597.36,555.67 L600.69,554.16 L604.02,552.67 L607.36,551.21 L610.69,549.79 L614.02,548.39 L617.35,547.03 L620.68,545.69 L624.02,544.39 L627.35,543.11 L630.68,541.86 L634.01,540.64 L637.35,539.45 L640.68,538.29 L644.01,537.15 L647.34,536.05 L650.67,534.97 L654.01,533.91 L657.34,532.88 L660.67,531.88 L664.00,530.90 L667.34,529.95 L670.67,529.03 L674.00,528.12 L674.00,535.63 L670.67,536.67 L667.34,537.74 L664.00,538.83 L660.67,539.94 L657.34,541.08 L654.01,542.24 L650.67,543.43 L647.34,544.65 L644.01,545.89 L640.68,547.16 L637.35,548.45 L634.01,549.77 L630.68,551.12 L627.35,552.50 L624.02,553.90 L620.68,555.34 L617.35,556.80 L614.02,558.29 L610.69,559.81 L607.36,561.36 L604.02,562.94 L600.69,564.55 L597.36,566.19 L594.03,567.86 L590.69,569.56 L587.36,571.29 L584.03,573.05 L580.70,574.84 L577.37,576.66 L574.03,578.52 L570.70,580.40 L567.37,582.31 L564.04,584.25 L560.71,586.23 L557.37,588.23 L554.04,590.26 L550.71,592.32 L547.38,594.41 L544.04,596.53 L540.71,598.68 L537.38,600.85 L534.05,603.06 L530.72,605.29 L527.38,607.54 L524.05,609.83 L520.72,612.13 L517.39,614.46 L514.05,616.82 L510.72,619.20 L507.39,621.60 L504.06,624.02 L500.73,626.46 L497.39,628.93 L494.06,631.41 L490.73,633.91 L487.40,636.42 L484.06,638.95 L480.73,641.50 L477.40,644.06 Z" fill="rgb(224,150,115)" fill-opacity="0.42" stroke="none"/>
<path d="M477.40,645.66 L480.73,643.82 L484.06,641.97 L487.40,640.14 L490.73,638.31 L494.06,636.49 L497.39,634.67 L500.73,632.86 L504.06,631.06 L507.39,629.27 L510.72,627.49 L514.05,625.71 L517.39,623.95 L520.72,622.20 L524.05,620.45 L527.38,618.72 L530.72,617.00 L534.05,615.28 L537.38,613.58 L540.71,611.90 L544.04,610.22 L547.38,608.56 L550.71,606.91 L554.04,605.27 L557.37,603.65 L560.71,602.04 L564.04,600.44 L567.37,598.86 L570.70,597.29 L574.03,595.73 L577.37,594.19 L580.70,592.67 L584.03,591.16 L587.36,589.66 L590.69,588.18 L594.03,586.72 L597.36,585.27 L600.69,583.83 L604.02,582.41 L607.36,581.01 L610.69,579.62 L614.02,578.25 L617.35,576.90 L620.68,575.56 L624.02,574.23 L627.35,572.93 L630.68,571.64 L634.01,570.36 L637.35,569.10 L640.68,567.86 L644.01,566.63 L647.34,565.42 L650.67,564.23 L654.01,563.05 L657.34,561.88 L660.67,560.74 L664.00,559.61 L667.34,558.49 L670.67,557.39 L674.00,556.31" fill="none" stroke="#4b0c3e" stroke-width="2.8"/>
<path d="M477.40,626.40 L480.73,623.49 L484.06,620.61 L487.40,617.75 L490.73,614.93 L494.06,612.13 L497.39,609.37 L500.73,606.65 L504.06,603.96 L507.39,601.31 L510.72,598.69 L514.05,596.12 L517.39,593.58 L520.72,591.08 L524.05,588.63 L527.38,586.21 L530.72,583.84 L534.05,581.51 L537.38,579.23 L540.71,576.98 L544.04,574.79 L547.38,572.63 L550.71,570.52 L554.04,568.45 L557.37,566.43 L560.71,564.44 L564.04,562.51 L567.37,560.61 L570.70,558.76 L574.03,556.96 L577.37,555.19 L580.70,553.47 L584.03,551.79 L587.36,550.15 L590.69,548.55 L594.03,546.99 L597.36,545.47 L600.69,543.99 L604.02,542.55 L607.36,541.15 L610.69,539.78 L614.02,538.45 L617.35,537.16 L620.68,535.90 L624.02,534.68 L627.35,533.49 L630.68,532.34 L634.01,531.21 L637.35,530.12 L640.68,529.07 L644.01,528.04 L647.34,527.04 L650.67,526.07 L654.01,525.13 L657.34,524.22 L660.67,523.34 L664.00,522.48 L667.34,521.65 L670.67,520.84 L674.00,520.06" fill="none" stroke="#7d965e" stroke-width="2.6" stroke-dasharray="2.6 7.5"/>
<path d="M477.40,636.87 L480.73,634.35 L484.06,631.85 L487.40,629.37 L490.73,626.90 L494.06,624.45 L497.39,622.02 L500.73,619.61 L504.06,617.21 L507.39,614.84 L510.72,612.49 L514.05,610.16 L517.39,607.86 L520.72,605.58 L524.05,603.32 L527.38,601.09 L530.72,598.89 L534.05,596.71 L537.38,594.56 L540.71,592.44 L544.04,590.35 L547.38,588.29 L550.71,586.25 L554.04,584.24 L557.37,582.27 L560.71,580.32 L564.04,578.41 L567.37,576.52 L570.70,574.66 L574.03,572.84 L577.37,571.05 L580.70,569.28 L584.03,567.55 L587.36,565.85 L590.69,564.18 L594.03,562.54 L597.36,560.93 L600.69,559.35 L604.02,557.80 L607.36,556.29 L610.69,554.80 L614.02,553.34 L617.35,551.91 L620.68,550.51 L624.02,549.14 L627.35,547.80 L630.68,546.49 L634.01,545.21 L637.35,543.95 L640.68,542.72 L644.01,541.52 L647.34,540.35 L650.67,539.20 L654.01,538.08 L657.34,536.98 L660.67,535.91 L664.00,534.87 L667.34,533.85 L670.67,532.85 L674.00,531.88" fill="none" stroke="#c6652f" stroke-width="2.6" stroke-dasharray="10.6 9.6"/>
<line x1="467.70" y1="481.40" x2="467.70" y2="845.55" stroke="#4a4a4a" stroke-width="1.1"/>
<line x1="467.15" y1="845.00" x2="683.80" y2="845.00" stroke="#4a4a4a" stroke-width="1.1"/>
<line x1="477.40" y1="845.00" x2="477.40" y2="852.60" stroke="#4a4a4a" stroke-width="1.1"/>
<text x="477.4" y="870.6" font-size="16" text-anchor="middle" font-weight="normal" fill="#222">2</text>
<line x1="526.55" y1="845.00" x2="526.55" y2="852.60" stroke="#4a4a4a" stroke-width="1.1"/>
<text x="526.5" y="870.6" font-size="16" text-anchor="middle" font-weight="normal" fill="#222">3</text>
<line x1="575.70" y1="845.00" x2="575.70" y2="852.60" stroke="#4a4a4a" stroke-width="1.1"/>
<text x="575.7" y="870.6" font-size="16" text-anchor="middle" font-weight="normal" fill="#222">4</text>
<line x1="624.85" y1="845.00" x2="624.85" y2="852.60" stroke="#4a4a4a" stroke-width="1.1"/>
<text x="624.9" y="870.6" font-size="16" text-anchor="middle" font-weight="normal" fill="#222">5</text>
<line x1="674.00" y1="845.00" x2="674.00" y2="852.60" stroke="#4a4a4a" stroke-width="1.1"/>
<text x="674.0" y="870.6" font-size="16" text-anchor="middle" font-weight="normal" fill="#222">6</text>
<line x1="459.90" y1="828.70" x2="467.70" y2="828.70" stroke="#4a4a4a" stroke-width="1.1"/>
<line x1="459.90" y1="745.90" x2="467.70" y2="745.90" stroke="#4a4a4a" stroke-width="1.1"/>
<line x1="459.90" y1="663.10" x2="467.70" y2="663.10" stroke="#4a4a4a" stroke-width="1.1"/>
<line x1="459.90" y1="580.30" x2="467.70" y2="580.30" stroke="#4a4a4a" stroke-width="1.1"/>
<line x1="459.90" y1="497.50" x2="467.70" y2="497.50" stroke="#4a4a4a" stroke-width="1.1"/>
<text x="531.3" y="893.0" font-size="18.5" text-anchor="start" font-weight="normal" fill="#222" textLength="105.7" lengthAdjust="spacingAndGlyphs">Reward level</text>
<text x="87.6" y="834.8" font-size="16.3" text-anchor="end" font-weight="normal" fill="#222" textLength="9.4" lengthAdjust="spacingAndGlyphs">0</text>
<text x="87.6" y="752.0" font-size="16.3" text-anchor="end" font-weight="normal" fill="#222" textLength="29.7" lengthAdjust="spacingAndGlyphs">0.25</text>
<text x="87.6" y="669.2" font-size="16.3" text-anchor="end" font-weight="normal" fill="#222" textLength="32.0" lengthAdjust="spacingAndGlyphs">0.50</text>
<text x="87.6" y="586.4" font-size="16.3" text-anchor="end" font-weight="normal" fill="#222" textLength="29.7" lengthAdjust="spacingAndGlyphs">0.75</text>
<text x="87.6" y="503.6" font-size="16.3" text-anchor="end" font-weight="normal" fill="#222" textLength="29.7" lengthAdjust="spacingAndGlyphs">1.00</text>
<text x="452.0" y="834.8" font-size="16.3" text-anchor="end" font-weight="normal" fill="#222" textLength="9.4" lengthAdjust="spacingAndGlyphs">0</text>
<text x="452.0" y="752.0" font-size="16.3" text-anchor="end" font-weight="normal" fill="#222" textLength="29.7" lengthAdjust="spacingAndGlyphs">0.25</text>
<text x="452.0" y="669.2" font-size="16.3" text-anchor="end" font-weight="normal" fill="#222" textLength="32.0" lengthAdjust="spacingAndGlyphs">0.50</text>
<text x="452.0" y="586.4" font-size="16.3" text-anchor="end" font-weight="normal" fill="#222" textLength="29.7" lengthAdjust="spacingAndGlyphs">0.75</text>
<text x="452.0" y="503.6" font-size="16.3" text-anchor="end" font-weight="normal" fill="#222" textLength="29.7" lengthAdjust="spacingAndGlyphs">1.00</text>
<text x="107.4" y="505.8" font-size="15.2" text-anchor="start" font-weight="normal" fill="#222" textLength="46.0" lengthAdjust="spacingAndGlyphs">&lt;0.001</text>
<text x="149.9" y="522.0" font-size="15.2" text-anchor="start" font-weight="normal" fill="#222" textLength="46.1" lengthAdjust="spacingAndGlyphs">&lt;0.001</text>
<text x="195.5" y="538.7" font-size="15.2" text-anchor="start" font-weight="normal" fill="#222" textLength="36.9" lengthAdjust="spacingAndGlyphs">0.017</text>
<path d="M113.90,541.40 L113.90,538.00 M113.90,541.40 L117.13,540.35 M113.90,541.40 L115.90,544.15 M113.90,541.40 L111.90,544.15 M113.90,541.40 L110.67,540.35 " stroke="#111" stroke-width="1.6" stroke-linecap="round" fill="none"/>
<path d="M163.30,556.60 L163.30,553.20 M163.30,556.60 L166.53,555.55 M163.30,556.60 L165.30,559.35 M163.30,556.60 L161.30,559.35 M163.30,556.60 L160.07,555.55 " stroke="#111" stroke-width="1.6" stroke-linecap="round" fill="none"/>
<path d="M212.50,578.40 L212.50,575.00 M212.50,578.40 L215.73,577.35 M212.50,578.40 L214.50,581.15 M212.50,578.40 L210.50,581.15 M212.50,578.40 L209.27,577.35 " stroke="#111" stroke-width="1.6" stroke-linecap="round" fill="none"/>
<rect x="122.90" y="721.10" width="19.70" height="19.20" fill="rgb(224,150,115)" stroke="none" stroke-width="0" fill-opacity="0.42"/>
<line x1="124.70" y1="730.70" x2="134.70" y2="730.70" stroke="#c6652f" stroke-width="2.2"/>
<text x="152.6" y="735.4" font-size="15.0" text-anchor="start" font-weight="normal" fill="#222" textLength="20.5" lengthAdjust="spacingAndGlyphs">HC</text>
<rect x="122.90" y="752.70" width="19.70" height="19.00" fill="rgb(150,95,145)" stroke="none" stroke-width="0" fill-opacity="0.5"/>
<line x1="124.70" y1="762.20" x2="140.90" y2="762.20" stroke="#4b0c3e" stroke-width="2.6"/>
<text x="152.6" y="768.4" font-size="15.0" text-anchor="start" font-weight="normal" fill="#222" textLength="100.9" lengthAdjust="spacingAndGlyphs">vmPFC lesions</text>
<rect x="122.90" y="784.30" width="19.70" height="19.10" fill="rgb(180,188,155)" stroke="none" stroke-width="0" fill-opacity="0.45"/>
<rect x="125.50" y="792.55" width="2.60" height="2.60" fill="#7d965e" stroke="none" stroke-width="0"/>
<rect x="135.30" y="792.55" width="2.60" height="2.60" fill="#7d965e" stroke="none" stroke-width="0"/>
<text x="152.6" y="799.0" font-size="15.0" text-anchor="start" font-weight="normal" fill="#222" textLength="20.5" lengthAdjust="spacingAndGlyphs">LC</text>
<rect x="486.90" y="721.10" width="19.70" height="19.40" fill="rgb(224,150,115)" stroke="none" stroke-width="0" fill-opacity="0.42"/>
<line x1="488.70" y1="730.80" x2="498.70" y2="730.80" stroke="#c6652f" stroke-width="2.2"/>
<text x="514.1" y="738.5" font-size="15.0" text-anchor="start" font-weight="normal" fill="#222" textLength="20.5" lengthAdjust="spacingAndGlyphs">HC</text>
<rect x="486.90" y="748.20" width="19.70" height="19.10" fill="rgb(150,95,145)" stroke="none" stroke-width="0" fill-opacity="0.5"/>
<line x1="488.70" y1="757.75" x2="504.90" y2="757.75" stroke="#4b0c3e" stroke-width="2.6"/>
<text x="514.1" y="765.2" font-size="15.0" text-anchor="start" font-weight="normal" fill="#222" textLength="100.4" lengthAdjust="spacingAndGlyphs">vmPFC lesions</text>
<rect x="486.90" y="775.10" width="19.70" height="18.80" fill="rgb(180,188,155)" stroke="none" stroke-width="0" fill-opacity="0.45"/>
<rect x="489.50" y="783.20" width="2.60" height="2.60" fill="#7d965e" stroke="none" stroke-width="0"/>
<rect x="499.30" y="783.20" width="2.60" height="2.60" fill="#7d965e" stroke="none" stroke-width="0"/>
<text x="514.1" y="791.6" font-size="15.0" text-anchor="start" font-weight="normal" fill="#222" textLength="20.5" lengthAdjust="spacingAndGlyphs">LC</text>
</svg>
</body></html>
